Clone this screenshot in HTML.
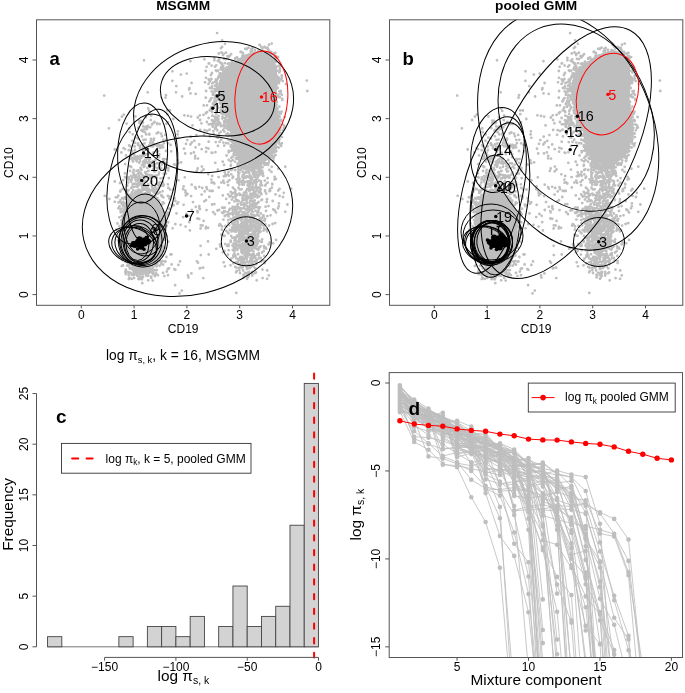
<!DOCTYPE html>
<html><head><meta charset="utf-8"><style>
html,body{margin:0;padding:0;background:#fff;}
svg{display:block;font-family:"Liberation Sans", sans-serif;}
svg{will-change:transform;}
</style></head><body>
<svg width="685" height="693" viewBox="0 0 685 693">
<rect width="685" height="693" fill="#fff"/>
<defs><clipPath id="ca"><rect x="36.5" y="19.8" width="293.3" height="285.5"/></clipPath><clipPath id="cb"><rect x="389.5" y="19.8" width="293.3" height="285.5"/></clipPath></defs>
<g id="sc"><path d="M261.0 50.9L253.0 52.5L245.0 55.7L238.5 60.5L230.5 63.7L225.7 70.1L222.5 78.2L219.3 86.2L217.7 91.0L220.9 97.4L224.1 103.9L227.3 113.5L230.5 126.4L232.1 140.0L236.0 150.0L241.0 160.0L250.0 164.0L262.0 163.0L271.0 157.0L276.0 147.0L277.9 138.0L278.7 126.4L277.1 113.5L275.5 102.3L276.3 91.0L277.1 78.2L275.5 66.9L272.3 57.3L267.4 52.5ZM140.0 193.0L132.0 196.0L126.0 203.0L123.0 215.0L122.0 232.0L123.0 250.0L127.0 262.0L135.0 268.0L148.0 268.0L157.0 262.0L162.0 250.0L164.0 232.0L163.0 212.0L158.0 200.0L150.0 194.0Z" fill="#bebebe" stroke="#bebebe" stroke-width="1.5" stroke-linejoin="round"/><path d="M215.8 90.9h0M228.3 115.6h0M277.0 101.9h0M281.9 137.1h0M231.4 136.1h0M228.4 120.0h0M272.9 161.0h0M217.8 78.6h0M279.4 138.6h0M275.7 56.0h0M218.8 96.3h0M275.4 52.8h0M281.4 143.6h0M235.1 58.8h0M235.1 150.2h0M275.9 76.4h0M279.4 129.7h0M225.5 120.0h0M277.4 117.9h0M215.9 89.1h0M239.5 59.7h0M221.8 69.7h0M227.0 125.6h0M239.7 155.3h0M221.0 100.8h0M278.3 94.6h0M215.8 79.7h0M229.7 67.5h0M237.4 61.7h0M270.5 156.0h0M282.7 81.1h0M273.3 160.7h0M274.8 61.4h0M284.8 127.5h0M279.9 79.5h0M277.2 57.2h0M260.7 167.7h0M273.0 62.1h0M244.8 163.2h0M215.8 102.7h0M236.0 151.5h0M278.9 139.3h0M227.0 121.0h0M276.9 70.9h0M219.8 100.0h0M228.5 121.0h0M216.3 100.7h0M227.9 127.9h0M259.7 50.6h0M275.7 148.2h0M221.5 106.7h0M243.0 55.3h0M274.5 152.3h0M220.9 77.0h0M223.8 113.6h0M235.7 148.9h0M225.9 71.7h0M212.0 86.4h0M239.2 161.7h0M241.6 158.1h0M219.8 99.6h0M216.1 113.8h0M217.5 106.4h0M223.6 100.9h0M242.2 163.3h0M217.8 87.6h0M243.9 162.1h0M218.3 95.7h0M277.7 88.0h0M221.1 78.9h0M276.4 82.6h0M221.7 80.3h0M277.2 114.8h0M273.3 152.2h0M219.9 87.1h0M277.5 111.8h0M214.9 95.5h0M238.0 59.2h0M273.5 152.3h0M256.4 166.8h0M276.0 147.6h0M219.6 76.6h0M217.3 96.3h0M279.6 134.3h0M240.1 59.1h0M278.7 77.7h0M234.8 150.7h0M274.5 150.3h0M228.1 114.4h0M222.1 78.8h0M258.5 50.2h0M217.4 86.9h0M281.6 78.6h0M269.3 52.4h0M234.1 155.0h0M228.2 139.7h0M224.5 104.3h0M271.1 52.5h0M245.6 58.4h0M232.0 141.9h0M222.0 76.6h0M220.2 94.7h0M279.4 106.6h0M219.6 87.8h0M260.8 166.0h0M229.8 129.5h0M246.5 168.8h0M225.6 122.0h0M222.0 107.4h0M225.9 107.0h0M238.1 59.9h0M241.4 158.9h0M279.4 72.4h0M273.2 59.6h0M254.9 50.0h0M276.5 66.8h0M225.8 59.2h0M279.1 116.7h0M279.8 70.9h0M216.7 71.0h0M226.5 122.2h0M231.7 133.6h0M230.0 124.9h0M250.6 176.0h0M259.6 44.9h0M233.4 145.3h0M277.1 78.7h0M238.8 60.5h0M241.5 163.9h0M240.6 161.8h0M276.5 104.7h0M271.0 51.8h0M282.8 130.3h0M223.1 104.5h0M278.6 138.3h0M228.4 125.1h0M277.5 108.9h0M277.7 134.9h0M268.0 49.2h0M278.3 81.3h0M248.6 47.7h0M221.5 109.2h0M276.8 83.0h0M272.0 157.4h0M228.6 125.2h0M246.6 55.5h0M281.5 111.7h0M262.4 48.5h0M237.1 57.5h0M264.5 47.0h0M276.6 107.4h0M278.9 80.0h0M240.4 157.9h0M222.0 76.6h0M254.7 164.8h0M233.4 147.3h0M224.9 75.8h0M220.9 73.6h0M220.0 100.2h0M274.5 56.3h0M265.9 47.9h0M280.3 128.0h0M284.1 125.7h0M281.7 121.0h0M250.2 162.4h0M223.1 79.6h0M277.5 79.2h0M276.0 76.8h0M283.8 128.1h0M276.4 58.2h0M267.6 47.6h0M246.5 162.4h0M278.8 112.0h0M274.8 155.6h0M227.5 56.1h0M226.6 116.6h0M241.0 51.7h0M277.0 76.1h0M255.5 52.4h0M257.2 168.3h0M221.8 79.2h0M223.0 67.3h0M220.8 73.6h0M281.8 76.5h0M243.2 166.1h0M229.7 121.8h0M261.4 51.9h0M259.2 163.9h0M224.6 112.4h0M229.2 134.3h0M278.5 128.4h0M228.1 57.6h0M280.9 113.6h0M275.2 78.7h0M239.5 163.4h0M234.8 148.5h0M226.2 69.7h0M236.5 143.8h0M274.6 109.5h0M231.8 146.8h0M274.3 152.0h0M249.5 55.4h0M217.8 90.1h0M216.8 84.6h0M269.0 44.7h0M248.6 55.2h0M208.6 83.9h0M252.6 47.9h0M275.9 147.3h0M278.8 141.9h0M227.4 125.1h0M252.0 50.7h0M234.3 149.0h0M222.8 76.9h0M233.0 150.6h0M232.8 130.8h0M215.6 89.4h0M286.0 84.0h0M280.2 132.9h0M238.3 158.6h0M233.0 136.8h0M229.2 56.4h0M272.3 156.4h0M244.9 165.5h0M276.0 69.1h0M270.8 53.5h0M279.9 97.3h0M277.6 79.6h0M244.3 164.5h0M231.2 131.3h0M242.6 159.2h0M255.1 162.8h0M276.3 95.7h0M223.8 68.4h0M273.6 158.2h0M278.6 65.8h0M214.6 91.2h0M222.6 107.9h0M277.0 88.3h0M281.1 145.9h0M269.6 53.5h0M277.8 147.1h0M271.9 58.6h0M280.8 91.0h0M279.4 136.1h0M221.0 81.7h0M215.1 85.7h0M279.3 81.6h0M227.4 123.2h0M278.5 133.6h0M235.8 148.5h0M237.6 157.2h0M258.6 50.6h0M280.5 93.0h0M227.9 113.4h0M229.0 121.2h0M240.6 52.1h0M275.9 151.4h0M275.8 105.2h0M249.1 164.3h0M239.9 161.8h0M276.8 107.9h0M235.3 58.1h0M257.2 163.8h0M278.1 116.0h0M228.3 129.6h0M281.7 75.4h0M235.7 158.0h0M229.8 63.6h0M271.7 43.6h0M238.9 152.0h0M284.6 117.0h0M241.7 60.5h0M279.8 97.1h0M221.2 67.3h0M230.8 64.2h0M224.8 104.5h0M234.6 146.5h0M241.1 165.7h0M234.3 145.6h0M251.4 49.0h0M272.6 157.8h0M277.8 118.8h0M266.6 53.2h0M261.4 166.9h0M278.1 57.1h0M274.0 53.5h0M220.1 87.2h0M242.5 55.9h0M222.1 76.1h0M279.2 117.1h0M221.8 101.6h0M232.0 61.7h0M275.1 58.7h0M280.0 133.0h0M271.8 54.1h0M226.0 120.0h0M220.4 82.2h0M223.1 66.1h0M275.6 56.6h0M224.2 75.7h0M275.5 99.7h0M217.0 88.2h0M281.4 79.4h0M245.2 48.8h0M230.0 134.7h0M232.2 139.7h0M268.0 49.4h0M279.6 69.8h0M230.6 135.7h0M233.4 146.3h0M278.0 124.1h0M278.7 147.6h0M279.8 71.0h0M276.3 130.6h0M247.9 166.7h0M280.0 68.4h0M224.4 123.5h0M228.2 133.9h0M228.2 126.1h0M243.1 159.8h0M250.6 51.5h0M237.0 153.6h0M224.8 118.0h0M221.6 96.1h0M220.6 96.0h0M282.3 99.9h0M231.5 135.0h0M268.5 49.8h0M232.8 142.6h0M281.7 133.6h0M228.0 110.3h0M279.4 91.3h0M218.2 88.3h0M223.7 104.0h0M226.4 109.4h0M224.0 58.8h0M279.9 114.1h0M235.9 147.2h0M230.4 67.2h0M256.3 162.2h0M243.3 160.7h0M246.1 165.4h0M279.2 127.1h0M244.5 55.9h0M243.2 162.8h0M246.6 48.7h0M269.1 51.6h0M278.0 139.5h0M219.6 73.3h0M275.4 65.8h0M218.9 75.8h0M230.2 124.3h0M246.9 49.0h0M230.0 129.9h0M277.8 118.2h0M230.5 65.2h0M275.0 106.6h0M232.7 149.8h0M282.3 99.0h0M221.9 76.5h0M274.9 73.3h0M282.5 124.4h0M248.8 55.9h0M240.3 160.5h0M244.8 56.2h0M277.4 122.8h0M230.6 128.2h0M275.7 107.1h0M277.6 77.0h0M221.2 76.8h0M277.9 96.4h0M231.8 135.3h0M232.5 134.3h0M277.0 141.4h0M268.0 54.3h0M277.4 132.0h0M214.5 89.0h0M261.4 47.0h0M229.7 55.7h0M223.7 111.1h0M241.8 57.9h0M242.9 52.9h0M271.2 60.5h0M222.8 69.4h0M223.3 125.4h0M270.9 55.3h0M253.8 163.7h0M279.7 130.3h0M225.2 107.2h0M279.3 139.7h0M223.3 73.6h0M227.0 126.4h0M279.4 66.3h0M277.9 120.2h0M239.5 156.4h0M236.2 158.7h0M279.6 117.2h0M231.2 140.0h0M234.1 152.4h0M264.8 163.2h0M261.6 162.7h0M238.1 155.5h0M273.5 157.6h0M218.5 60.9h0M281.2 120.0h0M223.2 74.0h0M278.6 96.9h0M266.2 163.5h0M273.6 61.0h0M231.1 147.1h0M277.2 141.2h0M241.6 59.5h0M226.2 113.2h0M225.4 75.9h0M281.9 143.3h0M227.8 63.8h0M246.2 162.3h0M218.4 99.2h0M221.4 75.2h0M281.8 94.8h0M215.9 94.8h0M239.6 60.5h0M228.2 143.4h0M212.9 82.8h0M279.9 124.5h0M275.6 155.1h0M271.4 56.9h0M276.4 84.8h0M226.9 113.8h0M276.0 83.6h0M217.5 97.8h0M279.0 83.2h0M221.5 63.8h0M275.9 62.0h0M264.5 164.9h0M235.1 161.7h0M231.7 139.0h0M228.6 135.9h0M223.8 72.5h0M276.3 150.9h0M230.2 126.3h0M277.3 77.5h0M228.6 63.3h0M239.5 156.3h0M269.3 160.5h0M279.7 120.3h0M279.3 143.8h0M234.6 145.3h0M279.3 121.9h0M227.8 98.2h0M229.6 107.1h0M219.2 59.4h0M229.1 96.6h0M223.7 53.8h0M218.3 107.8h0M220.3 81.1h0M214.3 105.5h0M219.5 91.3h0M220.0 83.3h0M219.7 84.1h0M222.2 64.5h0M214.4 100.6h0M220.8 103.9h0M235.9 119.2h0M229.8 110.6h0M221.1 79.4h0M209.1 63.4h0M205.8 71.0h0M210.9 75.0h0M221.8 89.3h0M228.1 123.1h0M229.1 122.0h0M223.8 86.7h0M225.1 93.5h0M220.6 110.4h0M214.4 58.0h0M224.2 145.7h0M229.7 196.7h0M212.3 83.3h0M206.0 77.8h0M235.1 141.5h0M214.9 91.6h0M216.3 65.3h0M220.3 91.5h0M222.6 106.7h0M226.8 135.3h0M221.4 94.6h0M222.0 111.4h0M221.1 74.5h0M218.4 119.0h0M214.9 120.9h0M212.3 115.7h0M226.1 94.5h0M221.8 94.0h0M233.6 88.7h0M216.9 109.7h0M229.7 108.6h0M221.0 126.3h0M216.7 79.9h0M213.4 131.1h0M206.7 66.8h0M223.7 110.5h0M234.0 110.9h0M218.6 135.5h0M229.4 129.8h0M229.4 113.1h0M211.9 72.9h0M235.6 101.1h0M209.3 101.4h0M228.6 110.1h0M222.1 40.3h0M222.4 96.4h0M233.6 100.0h0M221.6 88.6h0M221.1 106.9h0M218.4 77.2h0M213.4 102.9h0M219.5 91.6h0M211.4 79.0h0M208.8 124.3h0M230.1 110.2h0M221.1 111.7h0M211.6 65.6h0M230.1 73.0h0M221.6 82.4h0M205.0 82.3h0M227.6 133.3h0M204.4 59.3h0M217.9 125.2h0M230.4 140.5h0M233.6 88.7h0M215.1 123.4h0M220.1 100.4h0M219.4 89.6h0M228.2 73.7h0M209.8 81.6h0M222.6 91.7h0M220.9 48.2h0M215.8 127.2h0M220.7 81.9h0M229.6 84.8h0M227.0 104.7h0M224.6 125.9h0M237.4 132.0h0M215.9 70.4h0M219.5 94.5h0M226.6 99.8h0M223.1 55.0h0M221.4 112.6h0M233.5 119.2h0M222.4 68.3h0M221.6 99.0h0M220.7 102.8h0M225.2 110.3h0M237.2 73.5h0M210.7 108.8h0M213.1 93.3h0M221.1 77.7h0M227.2 115.3h0M222.6 114.3h0M227.7 90.6h0M225.8 102.1h0M221.6 86.5h0M233.7 106.9h0M211.7 111.2h0M203.8 105.4h0M226.9 135.1h0M223.0 80.2h0M235.1 125.2h0M230.6 91.8h0M226.0 52.7h0M224.9 43.8h0M214.4 60.3h0M229.5 122.1h0M217.4 130.3h0M222.1 46.9h0M218.8 53.5h0M222.0 107.6h0M216.4 119.2h0M228.9 75.0h0M225.5 95.7h0M219.6 141.9h0M216.6 89.0h0M221.1 113.1h0M226.9 73.9h0M231.1 145.9h0M235.6 102.7h0M218.0 70.7h0M224.0 96.5h0M221.2 82.3h0M206.1 91.0h0M220.4 89.0h0M211.7 91.4h0M220.6 69.2h0M226.1 97.7h0M222.6 108.9h0M219.9 96.6h0M225.4 118.4h0M227.9 93.9h0M227.0 128.4h0M211.8 88.2h0M221.5 98.8h0M234.2 129.6h0M220.7 95.9h0M211.9 73.3h0M231.1 54.2h0M226.1 80.7h0M219.6 96.4h0M234.6 107.9h0M225.3 125.6h0M206.3 147.8h0M210.1 80.6h0M226.6 67.4h0M209.6 129.7h0M219.6 123.9h0M225.3 94.5h0M233.8 92.9h0M236.0 76.4h0M214.9 81.9h0M223.6 70.2h0M217.0 137.3h0M223.2 129.9h0M224.6 84.7h0M216.6 104.8h0M222.5 86.5h0M218.1 137.7h0M229.3 107.9h0M219.7 89.3h0M236.0 84.7h0M238.2 83.1h0M211.6 152.6h0M221.2 139.7h0M225.1 93.9h0M228.6 92.5h0M225.1 96.4h0M209.7 110.3h0M218.3 96.3h0M224.9 63.2h0M225.8 115.0h0M235.4 121.3h0M224.4 83.1h0M221.8 63.4h0M224.8 94.6h0M219.4 100.1h0M225.1 106.4h0M213.7 133.9h0M222.1 108.2h0M221.9 75.3h0M223.7 89.3h0M215.9 102.6h0M227.1 115.1h0M223.2 83.6h0M219.6 95.9h0M211.9 120.2h0M222.5 66.5h0M232.2 149.1h0M212.9 94.8h0M216.0 119.1h0M212.3 112.0h0M224.5 127.8h0M208.7 79.5h0M220.4 123.8h0M222.4 118.5h0M224.9 76.1h0M221.0 89.0h0M219.6 75.6h0M227.0 106.9h0M208.6 118.0h0M217.8 60.9h0M230.1 98.5h0M224.2 95.5h0M221.5 52.5h0M227.0 80.0h0M221.8 96.8h0M215.0 66.7h0M220.7 131.8h0M217.2 83.5h0M222.4 84.0h0M230.8 110.9h0M239.1 104.7h0M237.2 84.0h0M223.4 72.0h0M219.1 91.3h0M226.1 134.7h0M220.1 62.4h0M221.9 95.4h0M218.6 122.0h0M229.9 82.0h0M217.1 33.1h0M217.7 121.9h0M215.7 123.8h0M226.8 116.4h0M226.6 98.6h0M229.3 128.2h0M224.7 99.9h0M231.3 139.7h0M217.9 122.7h0M222.7 161.7h0M220.1 85.1h0M215.9 124.8h0M215.0 117.9h0M218.7 136.0h0M233.3 130.8h0M208.7 63.5h0M203.5 169.5h0M218.2 90.6h0M222.6 116.9h0M220.0 102.9h0M222.3 67.4h0M230.7 146.4h0M214.7 116.7h0M231.3 157.8h0M215.0 128.5h0M210.8 124.2h0M191.6 83.0h0M218.6 115.9h0M218.1 120.2h0M220.0 123.1h0M213.0 125.8h0M208.7 141.7h0M205.9 112.8h0M222.8 113.4h0M223.3 142.6h0M221.8 112.3h0M231.9 126.7h0M206.1 151.7h0M216.5 129.4h0M222.9 111.3h0M223.0 99.7h0M206.0 113.3h0M234.5 129.2h0M225.4 112.7h0M219.7 85.8h0M212.7 126.7h0M209.9 88.0h0M200.2 129.9h0M227.1 113.7h0M229.3 98.8h0M220.5 124.4h0M224.4 95.5h0M223.9 121.3h0M207.0 112.1h0M212.8 123.9h0M207.0 105.4h0M215.5 118.6h0M219.1 133.6h0M197.8 117.5h0M216.6 119.6h0M204.7 130.2h0M229.9 115.8h0M207.2 131.0h0M214.5 120.4h0M216.3 111.1h0M214.1 106.8h0M196.4 135.1h0M216.8 117.2h0M226.4 115.8h0M224.3 131.6h0M211.5 98.1h0M218.4 121.9h0M223.3 93.3h0M213.0 122.0h0M217.2 120.1h0M216.9 80.8h0M211.3 107.4h0M200.1 120.0h0M210.5 99.5h0M201.4 123.3h0M191.1 116.6h0M258.7 207.1h0M253.5 221.8h0M245.0 230.3h0M244.3 205.3h0M252.0 146.4h0M233.8 209.6h0M243.9 216.2h0M242.8 226.2h0M256.6 168.3h0M244.3 215.6h0M247.6 157.1h0M254.9 153.1h0M260.8 170.4h0M258.1 154.6h0M249.1 173.3h0M247.1 159.6h0M260.3 221.0h0M246.2 221.0h0M235.7 196.3h0M254.9 149.5h0M233.7 154.1h0M240.8 217.7h0M254.0 208.2h0M246.6 197.2h0M247.5 168.7h0M254.3 215.6h0M260.9 192.6h0M242.6 149.5h0M233.7 225.7h0M245.0 152.7h0M235.5 206.9h0M252.0 210.8h0M260.4 149.7h0M245.7 213.4h0M235.3 217.2h0M232.0 193.7h0M246.4 197.7h0M237.2 226.2h0M256.3 159.5h0M235.5 190.5h0M244.1 177.9h0M248.5 147.7h0M262.8 154.8h0M258.3 175.6h0M251.1 219.6h0M250.4 196.4h0M253.4 217.4h0M227.9 212.2h0M255.4 220.9h0M244.9 204.8h0M267.5 156.6h0M261.8 153.4h0M265.2 151.3h0M239.6 214.7h0M279.5 189.0h0M254.1 201.5h0M251.3 199.7h0M239.3 232.0h0M252.7 193.5h0M224.8 216.0h0M260.7 218.1h0M256.8 164.7h0M252.2 153.5h0M260.9 219.9h0M251.3 229.3h0M258.2 147.6h0M241.3 220.3h0M250.3 219.0h0M238.5 177.5h0M240.0 166.7h0M255.1 147.3h0M244.2 177.9h0M231.6 231.5h0M246.6 200.7h0M228.1 213.8h0M263.5 215.3h0M242.5 163.1h0M237.3 221.0h0M263.2 215.6h0M233.2 197.2h0M223.4 219.6h0M251.4 167.2h0M244.3 213.7h0M259.9 190.4h0M246.0 218.7h0M235.7 154.7h0M254.3 148.3h0M246.0 196.3h0M259.6 219.1h0M255.4 158.1h0M237.0 217.4h0M238.7 226.7h0M252.4 157.6h0M244.1 199.2h0M250.0 205.5h0M252.6 184.0h0M238.9 170.1h0M251.2 195.7h0M261.0 157.0h0M236.4 194.1h0M231.3 222.1h0M258.8 174.3h0M258.8 150.8h0M259.1 191.0h0M267.0 199.2h0M250.6 164.0h0M236.2 214.7h0M248.0 230.7h0M246.3 148.7h0M252.7 197.9h0M254.4 220.4h0M247.6 221.5h0M255.3 192.3h0M253.1 153.1h0M254.8 163.7h0M234.7 220.8h0M265.6 206.7h0M241.1 204.7h0M247.9 161.2h0M245.8 149.5h0M249.7 158.8h0M248.8 148.0h0M228.2 194.5h0M268.1 164.8h0M251.1 213.9h0M248.3 169.8h0M246.0 224.0h0M262.7 162.0h0M261.1 157.8h0M248.8 230.1h0M261.9 156.7h0M219.1 225.6h0M259.9 172.2h0M250.1 155.4h0M242.4 176.8h0M238.5 187.7h0M246.2 229.9h0M230.7 191.8h0M253.1 183.5h0M243.5 161.7h0M259.3 160.5h0M229.2 203.1h0M255.6 162.4h0M246.9 160.6h0M235.7 198.8h0M265.3 151.4h0M261.8 173.5h0M236.3 218.1h0M243.1 215.8h0M266.3 164.4h0M251.6 168.9h0M244.5 163.7h0M239.6 178.7h0M239.9 195.0h0M255.4 180.5h0M261.4 154.8h0M247.9 152.6h0M235.5 211.0h0M241.9 167.6h0M232.4 156.7h0M254.2 176.5h0M247.4 195.6h0M255.7 229.9h0M267.9 230.4h0M265.4 154.6h0M240.2 227.1h0M247.9 152.6h0M237.6 152.1h0M228.7 160.0h0M264.0 228.4h0M253.1 161.9h0M232.6 177.9h0M251.7 224.6h0M222.0 226.5h0M243.1 212.2h0M246.7 210.0h0M237.3 224.3h0M239.4 215.7h0M257.0 174.7h0M242.2 184.6h0M256.5 220.0h0M230.9 161.4h0M245.9 157.1h0M265.8 184.6h0M238.1 172.1h0M240.6 146.4h0M245.1 214.6h0M240.7 208.1h0M246.1 229.2h0M261.7 147.9h0M256.2 156.4h0M252.5 155.9h0M246.1 156.5h0M250.5 178.8h0M258.2 176.3h0M234.6 224.7h0M243.2 184.7h0M235.0 192.3h0M250.7 151.4h0M252.8 148.6h0M243.7 166.2h0M234.5 201.4h0M241.1 170.2h0M258.1 148.8h0M243.0 171.9h0M254.7 206.0h0M244.0 157.2h0M242.9 151.8h0M254.7 200.5h0M235.2 230.9h0M256.4 223.6h0M222.0 212.6h0M251.4 148.9h0M240.1 208.9h0M245.2 169.3h0M247.2 223.9h0M227.9 174.6h0M268.6 206.1h0M245.7 159.9h0M272.7 201.0h0M258.4 168.5h0M250.9 179.7h0M228.3 220.1h0M263.6 216.4h0M252.7 211.8h0M262.6 167.3h0M229.3 210.1h0M225.5 226.0h0M241.8 208.4h0M256.1 160.5h0M259.7 152.7h0M260.8 189.5h0M241.7 153.7h0M230.6 218.9h0M256.0 186.0h0M235.1 209.6h0M247.2 189.1h0M267.3 216.1h0M242.1 201.3h0M252.1 187.1h0M246.8 231.0h0M248.3 185.0h0M255.2 154.3h0M249.7 227.7h0M247.0 206.0h0M267.3 156.5h0M259.5 174.0h0M238.0 180.8h0M260.0 226.8h0M249.4 191.0h0M248.3 167.4h0M239.3 193.6h0M259.2 158.1h0M250.0 163.5h0M238.6 200.8h0M241.6 162.1h0M262.7 163.1h0M248.6 146.7h0M245.4 172.9h0M275.9 178.9h0M247.9 230.6h0M252.4 219.2h0M252.0 164.1h0M244.9 221.6h0M239.4 173.1h0M253.3 215.6h0M247.5 229.8h0M243.5 146.1h0M243.7 227.6h0M270.4 152.2h0M249.3 210.7h0M251.1 165.9h0M241.1 194.8h0M240.4 208.5h0M255.2 176.7h0M260.4 157.6h0M248.3 212.2h0M255.6 215.7h0M239.6 189.3h0M243.3 197.0h0M255.4 153.1h0M262.3 171.0h0M242.6 197.8h0M261.5 156.0h0M240.9 147.2h0M260.4 185.0h0M265.7 149.5h0M243.2 208.3h0M255.8 149.2h0M258.4 166.0h0M242.0 181.6h0M243.9 192.8h0M241.3 216.4h0M254.0 191.8h0M259.5 174.8h0M235.6 224.6h0M237.3 227.0h0M254.0 203.1h0M240.6 203.0h0M247.2 181.3h0M257.3 187.4h0M245.6 226.6h0M257.5 212.8h0M247.9 207.7h0M248.6 177.0h0M244.0 155.5h0M228.7 152.3h0M241.2 225.2h0M231.2 170.0h0M255.4 207.0h0M255.2 204.4h0M254.2 180.9h0M258.5 210.9h0M267.0 231.4h0M227.9 215.2h0M249.3 167.2h0M253.9 225.5h0M248.0 169.3h0M249.1 171.6h0M258.0 212.0h0M256.7 161.9h0M231.9 213.4h0M264.8 180.6h0M236.1 231.7h0M254.8 148.6h0M257.7 157.3h0M228.5 216.4h0M266.2 193.6h0M252.9 220.0h0M250.2 217.0h0M260.7 149.8h0M246.1 191.0h0M252.8 224.7h0M258.4 158.3h0M221.9 229.7h0M232.4 228.9h0M257.3 203.2h0M233.9 229.9h0M252.8 206.6h0M248.0 176.7h0M258.6 164.1h0M226.5 226.8h0M249.2 197.3h0M248.9 187.7h0M253.2 172.4h0M252.1 179.4h0M247.1 215.1h0M248.8 229.6h0M253.6 190.3h0M240.7 211.1h0M267.6 147.9h0M249.3 184.1h0M243.6 174.7h0M259.3 150.2h0M235.2 170.0h0M263.3 152.7h0M242.7 213.1h0M246.0 222.8h0M244.9 231.4h0M249.6 230.8h0M241.6 189.3h0M243.8 184.7h0M254.0 167.8h0M242.3 182.7h0M250.2 160.9h0M242.7 230.6h0M245.3 176.9h0M244.5 147.5h0M237.7 204.2h0M245.4 167.3h0M232.2 220.5h0M232.2 229.1h0M275.5 194.4h0M250.9 160.4h0M255.5 210.9h0M248.1 220.2h0M259.1 151.2h0M249.5 188.0h0M255.5 221.6h0M249.4 197.8h0M252.7 172.0h0M238.3 159.1h0M261.5 155.2h0M243.0 222.4h0M245.0 221.2h0M256.2 149.3h0M249.1 207.1h0M244.3 230.4h0M262.6 175.1h0M242.4 156.9h0M228.7 175.7h0M248.4 153.7h0M222.9 213.0h0M247.2 181.4h0M262.9 173.1h0M261.0 224.7h0M238.4 175.9h0M250.6 208.8h0M233.2 218.5h0M254.7 157.9h0M266.7 146.0h0M239.3 219.0h0M260.5 231.4h0M251.3 189.7h0M272.6 224.0h0M244.7 166.5h0M241.8 165.7h0M261.5 200.2h0M256.6 207.0h0M254.7 194.8h0M237.4 228.7h0M252.6 168.8h0M247.1 152.8h0M265.1 190.3h0M252.1 228.6h0M245.8 154.0h0M237.0 230.0h0M232.7 207.0h0M239.5 230.3h0M251.8 161.7h0M257.8 147.3h0M257.6 222.7h0M241.8 218.9h0M265.9 153.8h0M226.3 215.1h0M248.6 189.7h0M255.1 203.4h0M245.1 182.2h0M251.5 196.3h0M259.8 171.6h0M246.8 159.1h0M255.9 146.2h0M257.9 225.9h0M235.1 213.4h0M258.0 225.9h0M251.3 160.3h0M232.8 210.8h0M250.7 222.7h0M258.0 176.8h0M246.8 202.9h0M252.2 203.8h0M256.0 179.3h0M246.8 231.1h0M254.7 154.9h0M262.4 151.5h0M258.3 187.9h0M251.8 170.4h0M234.5 152.1h0M234.9 210.4h0M245.2 200.0h0M263.3 175.9h0M258.8 152.8h0M265.4 224.4h0M255.2 187.4h0M252.2 215.3h0M248.8 169.0h0M262.0 199.6h0M235.7 195.3h0M255.2 174.6h0M252.1 153.5h0M245.9 177.7h0M260.9 181.2h0M260.8 151.6h0M254.1 193.5h0M250.4 153.3h0M237.6 163.9h0M238.4 166.7h0M220.6 224.6h0M238.1 169.3h0M252.9 194.5h0M262.0 218.0h0M240.6 167.7h0M260.8 213.5h0M271.5 171.8h0M262.1 185.4h0M265.2 218.9h0M248.2 208.7h0M246.4 176.3h0M256.0 159.7h0M263.4 157.9h0M252.7 216.8h0M253.7 175.2h0M255.3 227.6h0M242.7 175.5h0M255.1 229.1h0M231.3 174.3h0M269.0 152.3h0M265.1 191.3h0M273.3 209.5h0M245.1 147.0h0M241.5 223.7h0M237.4 215.2h0M233.0 214.8h0M224.2 211.2h0M262.0 154.9h0M251.1 158.9h0M246.0 223.7h0M228.6 223.2h0M255.3 155.6h0M272.3 184.4h0M253.9 172.0h0M262.0 161.3h0M235.3 221.6h0M265.4 151.6h0M252.1 169.7h0M255.1 154.6h0M258.2 148.9h0M251.7 149.1h0M254.3 226.5h0M249.8 185.6h0M247.9 170.2h0M236.7 217.2h0M235.7 219.5h0M263.1 152.4h0M265.0 157.2h0M247.3 214.1h0M245.5 223.9h0M247.6 157.3h0M256.2 151.4h0M267.8 164.0h0M250.1 225.9h0M247.7 161.7h0M259.0 220.6h0M255.8 221.3h0M229.8 213.8h0M245.6 192.1h0M267.5 151.6h0M255.6 182.5h0M247.0 224.3h0M255.9 182.8h0M236.5 212.5h0M240.5 170.2h0M246.9 219.6h0M252.4 187.8h0M271.9 147.9h0M252.1 165.4h0M251.2 222.2h0M263.5 230.6h0M241.8 221.6h0M245.9 213.3h0M255.2 149.1h0M250.1 229.8h0M254.9 166.7h0M255.1 225.3h0M239.2 181.0h0M238.5 174.4h0M252.2 166.4h0M232.0 208.3h0M269.4 170.0h0M240.7 208.5h0M244.4 193.9h0M258.9 169.1h0M254.9 180.5h0M253.7 220.9h0M254.0 150.4h0M237.4 182.3h0M245.6 224.5h0M246.7 155.2h0M236.0 154.7h0M244.5 219.7h0M260.9 184.1h0M242.5 168.2h0M243.3 180.8h0M244.2 168.7h0M256.8 203.8h0M230.9 165.0h0M253.6 205.6h0M253.6 163.9h0M248.3 197.2h0M238.6 207.3h0M247.9 182.7h0M270.2 190.7h0M248.8 227.4h0M248.6 159.3h0M261.1 163.8h0M235.1 207.2h0M261.3 194.2h0M248.1 196.9h0M278.4 168.7h0M274.6 176.8h0M256.9 182.1h0M256.2 172.0h0M249.7 147.8h0M259.2 156.6h0M257.2 195.0h0M236.5 179.3h0M237.9 147.7h0M255.3 193.1h0M246.0 167.2h0M248.1 226.9h0M249.0 211.3h0M253.0 173.6h0M246.4 198.3h0M259.3 156.6h0M261.7 224.2h0M267.5 182.7h0M247.5 172.2h0M247.0 231.7h0M251.3 182.2h0M234.0 188.6h0M236.8 152.1h0M251.6 154.1h0M250.7 229.7h0M254.7 221.4h0M245.3 159.7h0M260.0 149.7h0M245.7 216.6h0M241.2 228.1h0M258.6 202.0h0M229.7 209.0h0M223.4 207.9h0M269.5 191.2h0M250.2 175.7h0M261.7 146.2h0M249.5 176.9h0M242.9 180.0h0M240.2 157.6h0M232.2 169.4h0M250.8 196.2h0M240.6 164.8h0M250.9 158.8h0M255.4 155.6h0M247.7 198.5h0M250.8 183.0h0M265.3 185.6h0M254.2 169.3h0M254.0 166.1h0M245.7 209.4h0M267.4 158.0h0M266.4 151.5h0M246.4 153.9h0M255.7 164.8h0M247.2 197.0h0M248.6 147.5h0M236.4 226.0h0M271.7 153.0h0M251.6 227.1h0M226.2 198.9h0M264.0 152.7h0M266.0 210.9h0M251.8 177.6h0M246.5 214.5h0M250.0 200.9h0M259.0 192.6h0M243.1 195.4h0M252.6 201.2h0M229.8 230.0h0M257.9 231.2h0M237.0 195.2h0M241.5 231.7h0M251.8 209.4h0M262.9 158.8h0M239.3 215.8h0M245.9 149.2h0M269.0 148.4h0M243.7 178.1h0M238.5 212.9h0M242.9 200.1h0M253.5 221.2h0M256.7 189.0h0M259.8 190.6h0M250.5 225.0h0M247.1 166.2h0M256.1 167.5h0M259.3 167.1h0M238.4 176.4h0M239.0 230.3h0M252.9 148.2h0M267.6 178.2h0M244.7 203.8h0M253.7 149.3h0M250.9 176.9h0M249.9 225.7h0M253.8 214.9h0M239.1 183.5h0M217.5 210.5h0M255.9 206.8h0M225.2 211.4h0M252.0 195.3h0M254.9 176.6h0M253.7 222.8h0M234.5 231.5h0M255.6 159.6h0M259.0 162.3h0M256.7 189.0h0M266.3 149.0h0M239.3 184.7h0M241.5 214.9h0M243.1 225.4h0M245.7 223.4h0M263.6 152.6h0M262.0 148.7h0M251.6 178.1h0M266.7 202.0h0M256.9 178.4h0M240.0 160.3h0M259.4 229.1h0M233.5 213.3h0M233.5 217.3h0M241.4 227.8h0M243.9 195.3h0M248.9 181.5h0M251.2 170.2h0M244.8 148.2h0M243.5 168.0h0M258.5 166.7h0M253.9 173.4h0M244.7 212.4h0M244.6 147.3h0M252.3 159.4h0M237.8 200.3h0M238.0 163.3h0M256.2 229.9h0M258.9 164.7h0M248.1 163.3h0M268.7 162.8h0M245.4 220.1h0M254.9 204.2h0M257.4 159.9h0M250.3 193.8h0M249.6 202.8h0M268.1 163.3h0M259.4 187.4h0M232.7 160.1h0M259.2 153.2h0M224.7 207.7h0M235.3 226.4h0M257.3 157.7h0M237.2 201.0h0M259.3 226.5h0M244.2 207.3h0M258.6 160.4h0M250.2 217.8h0M257.4 197.4h0M260.4 223.9h0M234.0 193.0h0M245.6 227.6h0M250.4 205.7h0M263.9 155.7h0M256.0 185.0h0M245.9 199.9h0M232.2 223.5h0M231.9 199.6h0M240.8 181.6h0M253.1 173.8h0M247.6 231.1h0M261.7 223.9h0M250.0 220.2h0M258.8 180.3h0M232.3 219.6h0M252.6 186.5h0M241.8 217.6h0M240.7 219.0h0M259.5 225.5h0M251.7 166.5h0M252.2 153.1h0M248.1 207.1h0M237.7 165.5h0M229.2 225.2h0M266.0 229.2h0M248.1 212.3h0M249.6 189.6h0M254.7 160.3h0M243.5 204.7h0M246.4 193.2h0M238.0 217.5h0M251.7 205.2h0M244.5 227.1h0M258.7 208.9h0M262.8 224.0h0M240.8 163.4h0M258.5 171.5h0M244.0 203.3h0M269.1 225.6h0M250.2 207.0h0M259.3 196.3h0M246.1 172.1h0M265.9 157.3h0M245.4 151.5h0M234.7 209.1h0M222.2 207.7h0M246.1 220.5h0M248.4 156.6h0M254.2 160.1h0M237.2 218.1h0M251.2 167.4h0M247.5 206.8h0M241.5 151.0h0M269.8 189.3h0M270.5 215.3h0M249.5 222.1h0M254.7 196.7h0M256.4 191.0h0M259.5 165.3h0M245.2 147.6h0M254.4 171.2h0M271.9 154.9h0M251.8 148.1h0M247.5 185.3h0M242.7 162.0h0M248.4 157.1h0M227.6 181.9h0M247.7 208.7h0M265.0 149.5h0M253.4 189.1h0M255.7 146.4h0M254.0 153.1h0M248.2 215.4h0M237.3 206.4h0M226.2 230.8h0M271.7 166.8h0M258.2 159.3h0M228.5 171.9h0M264.2 220.0h0M243.4 213.3h0M260.9 182.7h0M248.0 198.1h0M242.4 198.4h0M260.7 170.8h0M247.6 176.7h0M222.9 252.3h0M245.6 244.4h0M243.4 250.6h0M260.9 257.9h0M249.4 246.5h0M239.4 267.8h0M227.9 232.7h0M244.9 247.0h0M249.1 240.2h0M264.7 261.1h0M228.5 233.3h0M233.4 263.3h0M242.3 225.7h0M243.7 228.9h0M247.0 254.1h0M235.5 248.3h0M249.6 236.3h0M251.3 237.1h0M252.9 243.7h0M242.3 263.4h0M256.2 241.7h0M216.3 248.8h0M241.7 250.4h0M246.5 241.6h0M243.0 263.0h0M260.8 261.7h0M235.4 240.3h0M247.9 220.3h0M256.3 230.8h0M255.5 237.6h0M249.8 222.4h0M221.4 234.6h0M232.3 227.1h0M240.7 247.3h0M253.1 231.7h0M230.7 241.9h0M234.4 227.5h0M240.3 257.0h0M247.3 216.1h0M263.5 225.7h0M246.0 232.5h0M253.9 248.0h0M256.2 245.8h0M243.2 258.4h0M226.1 226.5h0M230.6 240.6h0M239.9 232.0h0M251.6 249.7h0M240.0 224.9h0M265.5 247.3h0M239.3 245.3h0M248.4 235.2h0M252.4 245.3h0M240.6 258.1h0M241.1 260.4h0M246.8 240.8h0M257.0 239.4h0M250.9 261.3h0M242.1 236.6h0M253.1 256.9h0M224.5 250.9h0M256.7 237.4h0M255.5 240.3h0M239.6 240.4h0M253.0 239.8h0M240.6 244.9h0M253.7 218.5h0M256.5 262.5h0M235.6 243.4h0M250.1 245.7h0M263.9 246.1h0M240.3 239.2h0M249.0 234.7h0M239.9 237.6h0M262.1 252.5h0M234.5 250.8h0M220.0 244.5h0M251.9 249.1h0M251.3 247.5h0M239.6 242.2h0M243.8 226.2h0M246.9 232.5h0M252.5 274.0h0M267.1 278.8h0M242.7 239.9h0M252.9 234.0h0M252.8 238.4h0M249.8 240.6h0M262.0 260.4h0M254.6 229.9h0M258.6 240.6h0M233.8 249.8h0M257.1 226.9h0M254.5 243.0h0M245.1 252.3h0M243.7 237.4h0M257.5 214.5h0M256.7 229.6h0M258.8 230.9h0M260.3 224.1h0M264.4 248.1h0M245.1 242.2h0M257.1 244.0h0M253.2 248.2h0M236.6 267.8h0M245.7 250.1h0M249.8 246.6h0M263.7 251.2h0M244.7 247.3h0M244.2 232.1h0M258.0 233.9h0M259.1 247.5h0M255.2 246.0h0M244.3 275.6h0M243.6 234.5h0M251.4 264.1h0M234.9 239.5h0M255.6 258.3h0M252.8 241.0h0M249.4 237.6h0M251.7 246.5h0M250.0 243.7h0M254.1 247.0h0M240.1 264.2h0M249.5 242.8h0M245.6 265.1h0M248.0 250.0h0M239.3 241.8h0M241.5 235.2h0M236.8 241.5h0M234.4 253.5h0M254.0 234.2h0M250.4 236.3h0M249.3 250.4h0M230.2 213.9h0M250.5 250.7h0M245.6 237.5h0M238.9 211.9h0M258.9 215.8h0M247.5 241.1h0M248.2 228.2h0M237.2 249.1h0M234.4 244.5h0M232.5 245.5h0M249.5 243.7h0M250.1 228.8h0M239.8 238.8h0M258.2 235.9h0M244.8 257.9h0M246.5 254.1h0M234.6 255.0h0M244.5 249.0h0M251.0 218.8h0M255.1 237.3h0M255.2 239.1h0M246.3 223.1h0M233.3 255.3h0M236.3 245.4h0M243.6 228.2h0M242.1 240.4h0M249.9 237.2h0M238.4 259.7h0M257.8 243.4h0M234.9 247.7h0M239.6 260.2h0M244.2 234.6h0M241.5 231.0h0M243.8 226.7h0M246.4 252.9h0M249.0 231.1h0M248.0 237.5h0M230.8 241.2h0M252.4 245.0h0M241.0 234.2h0M243.6 247.9h0M245.7 256.6h0M251.7 254.5h0M241.5 247.9h0M244.6 247.4h0M247.2 272.8h0M233.8 247.4h0M240.1 247.9h0M247.1 261.8h0M243.4 234.7h0M247.8 246.5h0M224.9 266.3h0M236.4 262.1h0M256.4 260.2h0M246.9 233.4h0M238.1 258.8h0M240.8 248.5h0M241.8 236.7h0M254.1 232.3h0M243.4 240.2h0M246.6 242.4h0M235.8 238.7h0M242.2 267.8h0M252.6 242.6h0M246.9 240.4h0M260.7 241.6h0M236.3 292.9h0M238.0 236.6h0M236.2 248.8h0M238.9 234.2h0M254.5 261.4h0M248.3 230.8h0M250.0 236.1h0M248.1 247.4h0M234.4 254.7h0M245.4 243.2h0M235.4 255.4h0M238.9 245.0h0M235.9 228.6h0M233.7 223.6h0M241.5 259.9h0M255.2 233.0h0M237.8 262.5h0M252.5 243.7h0M241.6 238.7h0M223.3 235.7h0M264.6 263.0h0M242.5 253.2h0M250.6 236.4h0M236.7 236.3h0M246.7 259.6h0M247.3 243.5h0M242.7 258.8h0M260.5 246.5h0M243.0 247.3h0M250.6 258.0h0M254.2 234.0h0M244.1 238.5h0M251.1 230.0h0M228.5 244.3h0M240.5 238.1h0M243.9 232.4h0M245.8 229.6h0M234.1 249.9h0M242.1 256.9h0M247.7 234.7h0M239.9 230.8h0M244.9 249.7h0M244.8 245.8h0M236.1 258.3h0M250.3 255.2h0M234.4 240.6h0M237.9 262.2h0M243.1 270.5h0M249.0 236.2h0M256.2 264.2h0M243.3 236.2h0M244.4 228.9h0M235.2 217.1h0M239.5 227.5h0M246.3 246.5h0M254.2 246.2h0M242.7 258.5h0M238.4 217.4h0M232.3 237.8h0M249.8 255.2h0M235.5 255.9h0M248.3 250.7h0M235.5 240.2h0M225.2 244.1h0M241.3 251.4h0M255.0 232.1h0M253.1 256.0h0M242.3 265.7h0M237.7 226.0h0M245.1 264.0h0M249.8 222.4h0M240.2 258.1h0M238.3 241.5h0M235.6 267.1h0M260.6 227.9h0M228.6 250.2h0M249.1 243.7h0M246.3 240.1h0M253.7 254.2h0M257.2 254.5h0M240.3 238.7h0M242.9 245.2h0M239.1 233.8h0M243.1 238.4h0M244.1 263.2h0M257.5 237.8h0M246.2 240.2h0M237.4 250.0h0M227.1 245.8h0M242.0 227.9h0M249.0 254.4h0M246.8 247.8h0M236.2 247.8h0M258.0 228.9h0M264.7 221.0h0M252.6 235.2h0M246.3 242.2h0M244.4 254.6h0M241.7 244.9h0M255.1 240.9h0M224.6 235.9h0M239.1 231.7h0M250.1 243.6h0M237.1 235.6h0M231.1 235.9h0M261.8 221.7h0M261.9 241.9h0M242.4 235.6h0M232.8 250.0h0M241.3 234.3h0M243.7 261.1h0M239.9 240.3h0M256.7 229.8h0M252.1 272.0h0M244.1 222.2h0M253.1 238.5h0M256.6 248.8h0M247.0 231.8h0M255.3 248.2h0M248.7 248.5h0M248.9 245.6h0M244.1 223.1h0M239.5 238.8h0M255.1 256.2h0M235.9 237.1h0M239.3 247.1h0M247.6 250.7h0M239.0 239.3h0M264.3 229.8h0M258.8 253.2h0M254.1 245.4h0M245.5 253.4h0M244.1 243.5h0M243.1 249.1h0M244.8 240.4h0M251.1 246.5h0M233.7 243.4h0M258.4 249.1h0M259.7 223.7h0M249.1 220.5h0M251.1 236.1h0M244.0 249.3h0M237.7 235.4h0M241.8 252.8h0M257.8 234.5h0M236.8 244.3h0M234.2 227.0h0M249.8 237.2h0M259.4 232.4h0M258.8 258.3h0M242.2 246.1h0M220.5 246.7h0M245.7 233.8h0M257.7 214.8h0M251.6 244.2h0M247.0 225.4h0M251.0 237.2h0M246.6 254.6h0M237.2 209.3h0M248.3 246.4h0M243.0 235.9h0M236.8 245.3h0M250.8 238.6h0M257.5 241.4h0M251.7 242.4h0M245.9 256.6h0M252.3 259.4h0M256.7 245.7h0M253.4 251.5h0M251.0 255.3h0M247.6 247.5h0M251.4 234.2h0M254.4 257.6h0M227.9 254.6h0M240.2 235.6h0M252.6 234.4h0M248.6 237.3h0M235.2 266.8h0M239.2 230.5h0M242.9 266.8h0M231.4 258.6h0M239.5 247.6h0M245.6 257.5h0M239.2 267.7h0M242.7 228.0h0M248.1 254.8h0M252.6 256.7h0M244.4 262.7h0M254.3 234.1h0M242.8 236.5h0M243.9 248.1h0M242.4 243.3h0M253.4 255.7h0M259.9 207.4h0M240.7 236.9h0M241.6 234.6h0M238.1 254.2h0M258.5 232.3h0M253.5 219.0h0M251.6 265.9h0M255.3 235.5h0M238.6 241.7h0M258.4 249.8h0M248.5 251.6h0M236.6 219.0h0M241.1 239.2h0M249.1 245.8h0M276.1 239.9h0M241.2 262.4h0M246.9 269.1h0M264.3 255.9h0M253.8 226.6h0M259.0 248.2h0M252.7 257.9h0M248.3 234.2h0M242.2 233.7h0M255.7 245.6h0M247.6 240.0h0M245.7 231.6h0M247.9 232.4h0M249.3 242.6h0M250.9 258.9h0M251.1 247.6h0M254.8 239.1h0M246.4 250.9h0M233.8 237.6h0M266.2 248.7h0M248.7 253.1h0M245.4 240.8h0M244.2 258.8h0M262.1 239.3h0M245.9 251.6h0M236.5 247.0h0M256.9 260.0h0M269.7 242.4h0M247.4 257.2h0M250.3 260.5h0M247.6 225.6h0M239.8 225.9h0M248.8 261.9h0M252.5 240.5h0M228.6 245.9h0M240.8 238.1h0M247.1 274.7h0M242.9 236.7h0M233.3 256.9h0M237.8 222.4h0M242.0 248.7h0M234.8 244.3h0M230.8 260.1h0M239.3 270.1h0M241.0 267.2h0M251.0 266.9h0M247.7 277.4h0M268.8 275.4h0M248.9 271.8h0M238.8 264.1h0M240.0 273.0h0M247.7 268.4h0M267.2 270.4h0M255.2 273.2h0M249.0 273.4h0M236.7 271.1h0M256.7 280.3h0M247.0 278.8h0M255.2 268.3h0M236.1 272.3h0M243.6 277.4h0M251.8 261.9h0M245.1 272.8h0M258.9 255.5h0M252.7 262.8h0M246.8 265.3h0M256.0 272.5h0M262.6 278.1h0M242.9 257.4h0M246.7 267.2h0M249.5 266.1h0M243.5 274.9h0M250.5 266.3h0M251.8 265.1h0M248.7 276.1h0M244.7 262.4h0M249.7 268.0h0M262.5 269.6h0M243.4 263.2h0M230.5 265.3h0M248.7 264.7h0M252.2 275.5h0M253.7 266.3h0M121.9 221.8h0M165.7 234.7h0M165.2 237.7h0M121.9 244.6h0M163.1 220.5h0M145.3 193.3h0M121.3 231.2h0M157.2 263.5h0M127.3 198.5h0M161.4 255.4h0M121.8 216.0h0M144.2 267.0h0M163.3 211.6h0M126.9 202.1h0M123.0 248.8h0M126.7 259.6h0M123.0 225.4h0M150.5 268.5h0M166.8 215.4h0M148.6 192.1h0M148.1 193.8h0M120.2 234.2h0M124.5 209.3h0M148.3 269.4h0M165.5 214.2h0M117.5 223.5h0M131.6 194.0h0M119.0 238.8h0M128.8 197.1h0M122.3 223.7h0M136.8 194.4h0M167.7 212.5h0M134.3 271.7h0M152.8 195.6h0M136.6 268.2h0M118.0 240.2h0M157.5 257.7h0M121.1 233.5h0M163.6 227.1h0M121.4 243.4h0M157.4 198.2h0M136.3 186.4h0M121.1 241.3h0M160.2 251.1h0M130.1 195.7h0M122.7 249.7h0M129.1 263.2h0M138.6 189.7h0M154.0 192.6h0M136.1 194.9h0M121.1 235.1h0M147.7 267.3h0M146.2 192.9h0M164.0 224.6h0M122.4 247.7h0M116.3 230.0h0M141.4 270.3h0M124.2 229.4h0M122.7 259.3h0M156.5 266.3h0M162.7 224.7h0M122.9 211.5h0M162.0 210.1h0M164.0 247.6h0M159.8 205.5h0M153.2 267.4h0M122.8 236.7h0M122.6 255.7h0M155.8 259.8h0M165.5 226.5h0M124.7 207.7h0M162.9 215.2h0M119.5 226.2h0M120.8 212.3h0M131.9 195.6h0M123.0 265.5h0M122.8 223.7h0M146.7 267.4h0M142.0 270.7h0M136.4 193.8h0M138.1 193.4h0M136.1 266.4h0M139.0 190.9h0M164.8 220.5h0M121.6 253.6h0M158.8 254.6h0M161.1 245.6h0M138.6 269.2h0M150.1 269.9h0M131.1 197.5h0M144.4 269.4h0M161.7 204.8h0M119.8 235.7h0M121.8 252.7h0M127.7 199.7h0M147.5 270.3h0M138.5 192.1h0M124.4 253.8h0M161.9 209.1h0M132.3 193.9h0M119.5 206.5h0M153.6 270.4h0M154.3 196.8h0M165.0 239.8h0M120.7 212.2h0M163.3 232.3h0M128.7 197.1h0M155.1 265.1h0M129.8 197.4h0M123.0 239.4h0M146.8 268.3h0M123.4 222.2h0M129.0 197.2h0M135.7 191.9h0M160.5 256.1h0M140.9 190.9h0M159.1 256.8h0M156.2 273.9h0M143.5 189.5h0M164.3 224.9h0M122.5 247.3h0M152.0 265.2h0M125.0 212.0h0M128.9 265.7h0M166.1 221.8h0M121.5 250.1h0M151.0 269.2h0M144.0 271.0h0M117.4 236.2h0M138.3 268.4h0M121.4 254.9h0M135.3 192.3h0M121.9 204.2h0M122.7 236.1h0M129.0 196.6h0M119.0 243.1h0M122.3 219.7h0M125.4 261.8h0M147.9 192.2h0M120.0 253.5h0M124.6 210.0h0M122.6 223.4h0M120.5 209.7h0M122.2 260.0h0M159.2 200.7h0M150.7 271.9h0M139.4 192.3h0M124.4 253.0h0M121.8 223.7h0M143.7 268.1h0M127.8 197.6h0M162.8 220.3h0M120.1 245.6h0M127.9 263.3h0M121.7 208.6h0M160.4 253.1h0M147.6 270.7h0M119.0 241.8h0M143.1 190.1h0M162.5 236.3h0M118.4 208.2h0M135.4 269.5h0M157.4 261.9h0M122.3 228.2h0M147.5 191.7h0M147.5 190.4h0M130.8 196.8h0M119.3 217.3h0M123.2 205.9h0M163.6 246.6h0M140.0 194.3h0M124.4 206.7h0M166.6 236.0h0M164.7 221.9h0M125.2 207.7h0M128.9 197.7h0M122.4 246.5h0M122.7 233.6h0M136.3 191.0h0M165.3 226.6h0M157.7 193.5h0M155.3 196.1h0M121.1 233.0h0M168.2 241.7h0M168.3 222.3h0M166.8 225.8h0M122.4 237.2h0M145.2 271.0h0M157.7 201.0h0M163.5 218.6h0M165.1 247.9h0M131.9 192.4h0M162.5 233.5h0M122.4 216.8h0M160.7 254.4h0M163.9 203.2h0M121.3 220.1h0M132.9 268.5h0M146.8 271.0h0M165.4 239.3h0M143.1 269.6h0M130.7 273.1h0M134.4 269.2h0M139.6 273.6h0M142.9 257.2h0M133.8 274.3h0M148.7 273.2h0M146.5 263.1h0M138.1 269.6h0M145.9 269.7h0M134.6 274.3h0M139.1 272.4h0M125.8 269.7h0M143.0 277.0h0M139.4 260.5h0M128.6 275.1h0M146.6 268.0h0M131.9 274.9h0M134.5 268.7h0M126.9 254.8h0M140.1 278.9h0M136.1 262.2h0M148.9 263.6h0M121.8 266.1h0M140.8 264.4h0M138.3 268.9h0M138.7 277.0h0M139.8 271.9h0M148.9 267.1h0M145.3 265.7h0M138.9 268.5h0M146.3 273.8h0M132.9 263.6h0M129.5 263.7h0M133.3 268.6h0M131.7 278.9h0M148.2 280.3h0M142.4 272.8h0M137.0 275.5h0M143.1 268.7h0M141.9 279.3h0M151.7 269.4h0M123.5 253.6h0M138.3 268.8h0M138.3 271.3h0M142.9 264.9h0M134.1 277.9h0M156.4 270.3h0M140.3 274.1h0M142.1 269.9h0M139.3 277.5h0M133.8 272.5h0M130.4 272.6h0M142.0 269.1h0M142.3 260.3h0M133.2 267.3h0M140.2 269.4h0M133.9 270.0h0M142.3 283.2h0M140.9 271.5h0M141.9 268.0h0M136.2 273.9h0M137.5 267.1h0M139.4 278.4h0M130.5 267.7h0M141.9 273.0h0M152.7 280.6h0M134.8 274.0h0M154.9 276.2h0M133.2 266.7h0M140.6 274.5h0M131.9 274.5h0M134.9 273.4h0M145.6 272.5h0M147.9 269.9h0M141.5 277.0h0M135.4 266.6h0M128.8 279.1h0M133.8 274.9h0M140.5 272.3h0M136.7 269.1h0M147.4 270.4h0M131.7 268.9h0M128.7 272.4h0M146.3 270.8h0M151.2 277.9h0M137.9 275.2h0M137.2 270.4h0M137.3 270.0h0M129.8 268.5h0M129.3 277.9h0M135.2 269.1h0M127.1 265.7h0M143.3 258.3h0M141.8 267.0h0M156.1 273.3h0M146.6 271.4h0M147.7 263.6h0M153.0 274.1h0M127.3 272.0h0M140.1 278.0h0M137.8 270.3h0M143.5 269.1h0M153.4 272.6h0M135.0 271.3h0M138.5 279.2h0M131.6 260.3h0M156.8 270.1h0M149.4 270.4h0M136.6 273.2h0M141.1 266.9h0M125.4 272.0h0M151.2 276.6h0M129.6 277.9h0M129.6 267.7h0M141.1 270.7h0M134.1 268.7h0M141.5 271.1h0M146.1 275.5h0M141.7 266.6h0M146.5 270.4h0M134.4 257.5h0M142.0 274.0h0M148.9 265.1h0M139.9 260.9h0M141.7 271.7h0M133.7 273.0h0M148.2 275.9h0M133.3 270.5h0M148.7 269.4h0M137.5 269.0h0M147.5 269.2h0M125.7 274.0h0M163.0 272.9h0M151.5 272.3h0M138.9 265.0h0M144.7 270.5h0M147.9 271.4h0M146.0 259.5h0M143.4 273.9h0M167.8 269.0h0M163.0 264.7h0M155.3 270.1h0M159.5 250.7h0M146.3 257.0h0M166.8 271.6h0M156.6 265.3h0M164.7 261.6h0M159.6 265.7h0M145.0 247.3h0M155.1 252.3h0M155.5 274.6h0M165.4 261.5h0M152.3 255.7h0M152.5 262.6h0M158.0 259.2h0M163.3 251.2h0M151.9 247.8h0M171.6 264.5h0M139.5 247.4h0M175.4 269.8h0M169.0 268.3h0M154.2 262.8h0M162.5 255.4h0M154.7 260.1h0M164.4 276.1h0M154.8 254.4h0M157.9 275.2h0M161.3 263.8h0M160.2 261.3h0M156.8 254.0h0M157.8 251.3h0M162.4 261.1h0M158.9 249.8h0M170.6 254.5h0M146.6 248.6h0M159.2 257.8h0M154.8 244.8h0M160.7 262.1h0M155.2 242.3h0M152.5 253.8h0M156.9 256.4h0M154.9 250.9h0M153.4 245.1h0M168.0 275.2h0M147.4 127.8h0M152.1 178.3h0M161.2 147.5h0M153.5 197.4h0M152.6 144.0h0M152.9 153.3h0M128.2 182.6h0M145.8 160.8h0M128.5 190.2h0M167.9 184.3h0M156.8 151.5h0M140.6 199.4h0M141.5 155.7h0M140.0 183.3h0M152.8 142.2h0M138.8 201.0h0M145.0 132.3h0M133.8 172.6h0M150.4 176.5h0M151.6 177.8h0M133.1 161.5h0M151.1 182.7h0M144.1 147.0h0M155.3 160.0h0M158.3 132.5h0M140.0 148.2h0M153.0 145.2h0M155.9 190.8h0M131.6 153.2h0M143.1 198.4h0M131.9 177.3h0M154.5 121.9h0M124.9 173.4h0M153.3 191.5h0M141.2 157.7h0M154.0 138.7h0M168.2 170.6h0M142.5 198.3h0M135.3 137.7h0M130.7 179.6h0M154.4 144.4h0M129.9 159.0h0M126.1 190.7h0M150.2 142.6h0M159.7 166.6h0M148.0 171.2h0M169.9 110.5h0M161.1 133.7h0M152.5 187.8h0M147.7 204.2h0M147.8 190.2h0M149.2 178.1h0M155.3 190.2h0M145.1 188.2h0M129.7 132.2h0M122.4 203.0h0M131.5 180.2h0M148.3 108.5h0M124.7 197.5h0M139.6 200.1h0M146.8 174.5h0M155.2 204.6h0M135.0 142.9h0M133.0 172.7h0M128.6 179.6h0M128.2 198.0h0M137.6 196.3h0M160.5 178.3h0M108.9 128.3h0M142.4 188.2h0M146.2 174.9h0M159.2 172.6h0M159.1 157.2h0M149.3 134.5h0M124.9 149.1h0M134.9 150.0h0M137.5 194.8h0M133.7 175.0h0M149.5 204.7h0M135.3 199.6h0M130.7 157.3h0M142.9 161.9h0M151.9 181.3h0M134.4 205.0h0M131.2 167.0h0M134.9 150.3h0M142.9 186.6h0M145.0 195.8h0M136.1 159.9h0M133.2 190.2h0M153.8 140.0h0M170.6 145.0h0M174.1 164.3h0M169.3 198.6h0M139.3 120.6h0M144.2 197.7h0M141.0 203.3h0M136.8 197.4h0M138.5 157.4h0M146.5 129.2h0M148.0 198.6h0M158.2 193.5h0M161.9 136.2h0M139.0 204.9h0M139.3 198.7h0M153.1 204.4h0M152.9 161.2h0M138.9 172.2h0M144.1 188.7h0M126.6 123.6h0M147.6 174.7h0M131.5 158.2h0M145.9 204.8h0M109.4 199.0h0M144.0 179.3h0M128.0 204.6h0M141.1 120.9h0M146.8 147.0h0M138.1 143.4h0M165.2 134.9h0M154.2 191.7h0M137.6 204.9h0M162.5 196.7h0M146.5 126.4h0M145.7 185.5h0M164.9 170.2h0M168.1 143.3h0M145.4 162.5h0M152.1 190.1h0M144.4 155.7h0M155.2 187.2h0M140.5 190.4h0M159.6 144.8h0M125.0 177.1h0M146.9 204.0h0M159.3 154.3h0M146.3 177.0h0M126.0 155.4h0M147.9 154.4h0M131.0 181.6h0M140.1 148.3h0M146.6 147.7h0M163.8 184.6h0M140.8 191.9h0M132.7 134.3h0M163.4 185.8h0M140.0 178.7h0M137.1 157.3h0M143.2 131.5h0M140.5 167.9h0M158.9 163.5h0M121.9 116.7h0M132.2 186.6h0M152.8 154.0h0M142.9 196.7h0M141.2 173.7h0M118.5 202.4h0M151.5 190.4h0M137.9 143.9h0M157.5 189.0h0M119.1 120.0h0M147.2 158.4h0M148.4 179.0h0M160.0 192.3h0M142.9 183.3h0M133.4 197.7h0M145.2 172.5h0M137.1 192.1h0M146.3 134.4h0M117.5 197.2h0M140.8 197.6h0M143.3 185.7h0M145.9 154.3h0M141.2 196.6h0M162.6 191.3h0M166.5 159.1h0M153.9 198.8h0M144.9 163.5h0M159.0 184.5h0M144.2 189.7h0M142.0 129.9h0M136.9 179.8h0M146.0 117.2h0M161.2 168.2h0M158.4 185.0h0M159.7 146.0h0M147.4 188.0h0M135.5 203.6h0M151.2 115.5h0M144.4 160.8h0M135.1 202.4h0M154.8 196.4h0M124.1 203.7h0M126.7 197.4h0M132.4 140.7h0M136.9 186.4h0M142.5 176.9h0M153.2 169.5h0M153.3 189.8h0M138.6 182.7h0M136.6 191.4h0M143.5 204.6h0M156.4 175.6h0M147.9 200.9h0M150.6 199.9h0M154.4 190.6h0M150.1 162.1h0M145.5 172.2h0M120.5 190.6h0M139.9 161.2h0M131.8 150.6h0M134.8 193.1h0M139.3 204.7h0M151.9 186.5h0M155.7 192.5h0M138.3 128.0h0M153.0 146.4h0M153.2 162.8h0M122.6 188.8h0M151.1 146.3h0M143.4 201.3h0M123.4 198.8h0M148.8 153.0h0M152.6 199.0h0M154.1 189.7h0M141.0 169.0h0M155.0 177.3h0M157.0 200.4h0M154.1 171.6h0M128.8 196.0h0M158.1 151.3h0M143.2 126.4h0M142.1 144.4h0M161.8 164.6h0M162.9 182.6h0M162.6 202.4h0M114.7 149.5h0M162.0 185.8h0M120.4 200.2h0M151.4 201.2h0M133.5 153.0h0M148.5 194.6h0M157.3 193.9h0M157.7 168.5h0M145.4 127.2h0M114.8 181.5h0M141.4 130.6h0M139.2 175.6h0M144.5 196.7h0M159.7 124.0h0M137.5 159.0h0M155.3 164.4h0M137.9 138.5h0M139.9 156.1h0M148.9 196.7h0M155.1 171.3h0M156.7 177.7h0M142.6 123.1h0M157.1 124.0h0M134.7 156.8h0M170.2 189.6h0M156.7 133.4h0M146.2 193.3h0M139.5 123.0h0M139.5 176.8h0M147.2 193.1h0M139.9 146.0h0M145.9 196.9h0M135.5 177.2h0M136.2 204.6h0M159.9 148.0h0M135.4 176.0h0M140.2 197.0h0M133.7 202.9h0M151.5 197.4h0M134.6 183.6h0M141.0 198.8h0M149.3 134.0h0M141.2 198.1h0M153.4 165.4h0M150.2 159.1h0M147.4 186.3h0M138.0 204.9h0M145.6 139.6h0M136.0 180.7h0M136.3 195.5h0M133.9 186.9h0M162.7 181.9h0M157.1 163.2h0M133.6 170.0h0M148.0 125.9h0M157.9 144.9h0M147.1 129.1h0M165.9 167.5h0M133.4 157.8h0M146.0 200.8h0M120.2 191.5h0M159.3 192.7h0M137.4 186.8h0M149.4 158.1h0M157.1 183.7h0M143.0 202.8h0M139.5 194.6h0M138.0 177.5h0M161.2 195.5h0M166.0 151.0h0M139.2 195.7h0M163.1 159.2h0M140.1 159.3h0M118.3 195.7h0M138.3 170.3h0M135.9 180.7h0M148.3 184.3h0M149.0 189.2h0M136.5 170.8h0M135.7 179.9h0M141.0 203.3h0M114.8 201.8h0M150.0 197.1h0M157.6 146.3h0M144.9 177.6h0M127.3 185.5h0M143.0 163.9h0M134.4 177.5h0M135.3 195.9h0M161.8 195.3h0M141.4 169.9h0M136.0 175.2h0M150.0 194.9h0M126.0 198.8h0M163.0 185.3h0M149.2 160.6h0M146.4 181.2h0M148.7 162.0h0M126.2 192.9h0M153.6 122.9h0M147.8 202.7h0M145.3 159.7h0M132.6 201.6h0M142.1 184.3h0M159.7 185.3h0M136.2 158.5h0M146.8 203.4h0M154.0 176.8h0M130.9 155.9h0M136.8 202.3h0M146.5 190.2h0M158.6 174.4h0M149.4 144.9h0M135.5 196.3h0M143.9 166.9h0M123.1 180.2h0M150.0 166.8h0M140.9 204.5h0M142.3 149.5h0M145.3 160.6h0M144.5 194.6h0M135.4 116.4h0M168.4 168.3h0M131.1 176.1h0M143.6 196.9h0M144.4 166.2h0M125.1 164.1h0M139.9 180.0h0M132.6 160.4h0M128.7 150.2h0M123.6 148.1h0M140.9 192.5h0M157.1 123.3h0M151.8 175.5h0M142.0 165.1h0M146.6 186.3h0M115.8 197.3h0M144.8 202.0h0M135.0 193.2h0M150.0 175.2h0M149.9 193.2h0M142.8 182.3h0M138.1 200.7h0M142.9 122.4h0M166.4 123.8h0M138.2 179.0h0M145.4 197.9h0M153.3 166.2h0M156.9 200.9h0M129.2 128.4h0M144.1 176.4h0M129.6 166.1h0M137.5 191.4h0M149.4 200.8h0M120.6 202.3h0M144.4 177.6h0M142.5 156.0h0M150.7 201.1h0M142.1 186.7h0M143.8 198.1h0M138.3 194.3h0M154.5 192.7h0M150.1 190.4h0M147.0 162.0h0M104.7 195.8h0M151.1 163.0h0M133.6 202.3h0M148.6 199.3h0M147.3 167.9h0M150.2 164.1h0M138.5 179.1h0M143.6 201.3h0M139.6 196.3h0M123.8 204.6h0M148.0 163.2h0M134.8 158.2h0M143.4 176.7h0M153.0 189.2h0M156.3 191.9h0M149.6 159.1h0M145.5 181.8h0M142.5 175.6h0M134.3 158.6h0M148.5 170.9h0M146.4 181.6h0M138.2 145.0h0M151.9 124.5h0M130.0 170.9h0M150.3 127.3h0M133.6 204.8h0M132.0 197.4h0M132.1 198.6h0M135.7 200.3h0M131.2 188.1h0M143.5 176.2h0M142.7 203.0h0M177.5 160.4h0M122.1 198.1h0M138.3 180.7h0M153.5 152.5h0M159.0 187.0h0M142.7 183.5h0M155.5 144.9h0M138.8 176.6h0M150.7 195.9h0M135.6 198.2h0M127.3 191.9h0M144.0 185.5h0M139.1 194.6h0M142.2 186.2h0M140.8 123.2h0M125.7 177.6h0M138.2 173.6h0M136.8 161.4h0M128.7 177.5h0M134.6 146.5h0M143.0 147.1h0M143.8 151.7h0M131.7 179.8h0M128.5 195.3h0M133.8 183.8h0M134.4 155.3h0M138.7 184.3h0M159.0 203.5h0M136.8 193.4h0M120.0 183.0h0M157.1 202.1h0M143.5 139.8h0M135.2 202.6h0M146.5 186.0h0M137.3 156.3h0M162.4 146.9h0M144.0 129.6h0M143.2 147.2h0M136.1 193.4h0M144.5 203.2h0M138.5 181.8h0M136.6 183.9h0M139.6 180.4h0M131.7 179.6h0M149.5 194.0h0M156.1 184.0h0M128.8 195.0h0M135.9 191.9h0M145.2 202.0h0M129.1 145.5h0M132.7 184.0h0M150.8 120.1h0M141.0 204.2h0M148.1 126.9h0M123.8 114.6h0M155.2 167.4h0M144.9 149.8h0M140.0 184.0h0M164.1 159.1h0M151.4 201.5h0M123.3 202.0h0M167.3 114.2h0M136.3 159.8h0M140.5 173.0h0M130.4 146.4h0M162.0 136.3h0M140.9 197.1h0M151.0 138.9h0M154.2 175.9h0M142.7 190.3h0M121.4 152.5h0M163.2 147.3h0M141.9 136.3h0M124.3 203.4h0M138.8 179.0h0M139.0 185.2h0M139.2 162.8h0M144.4 143.4h0M150.9 139.9h0M163.3 197.3h0M156.0 145.1h0M149.2 110.9h0M167.8 195.9h0M143.0 200.2h0M169.8 196.7h0M145.4 160.7h0M123.7 189.2h0M159.6 182.3h0M163.6 221.0h0M174.8 164.7h0M228.7 151.0h0M180.6 224.8h0M185.6 192.7h0M230.9 145.2h0M223.3 180.7h0M212.3 152.9h0M194.3 140.8h0M191.0 153.4h0M195.2 155.9h0M183.6 186.4h0M185.6 226.6h0M218.6 177.1h0M203.6 220.9h0M218.0 145.9h0M214.3 204.2h0M190.4 144.5h0M207.0 189.2h0M166.3 139.8h0M201.9 166.6h0M184.0 148.7h0M171.8 204.7h0M167.7 214.7h0M176.5 213.4h0M223.8 176.3h0M213.2 212.2h0M206.0 226.9h0M184.8 177.3h0M205.8 228.4h0M223.7 212.5h0M186.0 143.8h0M183.2 217.1h0M226.6 155.5h0M175.4 201.1h0M232.8 193.1h0M204.7 191.4h0M209.3 197.0h0M189.9 230.4h0M211.4 179.6h0M163.9 143.2h0M195.1 158.4h0M231.0 196.0h0M212.7 190.9h0M162.3 145.4h0M215.3 162.8h0M178.3 163.2h0M230.7 165.8h0M175.3 224.2h0M185.2 153.5h0M195.9 188.7h0M191.1 196.1h0M204.3 201.3h0M169.0 208.7h0M217.9 169.6h0M200.6 228.5h0M193.9 152.4h0M222.8 195.4h0M225.4 174.5h0M197.6 212.3h0M168.3 168.0h0M173.6 205.2h0M232.9 187.7h0M211.6 182.7h0M201.6 194.6h0M165.2 217.7h0M197.7 168.5h0M195.1 187.2h0M199.9 209.2h0M226.1 143.1h0M197.3 211.1h0M191.7 184.7h0M165.9 173.6h0M199.2 218.9h0M166.2 162.8h0M189.2 222.2h0M215.8 142.1h0M218.8 187.5h0M225.6 176.0h0M178.3 137.8h0M201.7 149.2h0M168.7 214.2h0M187.3 140.1h0M168.4 187.9h0M177.2 203.7h0M233.2 213.7h0M219.1 210.0h0M209.7 190.8h0M224.1 182.9h0M206.5 187.2h0M172.4 206.0h0M224.7 172.3h0M228.1 185.2h0M187.5 194.0h0M229.4 180.2h0M191.8 210.0h0M163.8 173.7h0M163.6 160.8h0M215.4 152.2h0M172.6 228.3h0M185.8 195.4h0M198.0 158.6h0M212.2 175.9h0M197.4 218.5h0M168.7 178.1h0M202.2 188.0h0M199.3 206.2h0M213.0 182.4h0M178.5 180.3h0M188.7 215.8h0M219.7 224.1h0M200.8 225.3h0M190.7 136.7h0M181.2 162.3h0M224.7 172.3h0M183.1 189.2h0M208.5 148.6h0M185.4 190.6h0M191.8 142.4h0M183.6 204.8h0M206.5 210.1h0M163.0 178.0h0M208.4 174.3h0M233.1 176.6h0M199.2 186.8h0M196.8 170.9h0M211.3 191.0h0M178.3 202.3h0M195.8 206.8h0M212.1 204.5h0M201.7 171.4h0M225.4 175.8h0M163.3 139.9h0M214.3 183.5h0M195.6 147.3h0M173.5 189.5h0M221.3 182.6h0M199.3 207.9h0M208.1 227.8h0M206.0 200.2h0M171.2 151.3h0M224.1 164.9h0M186.4 214.0h0M174.6 198.4h0M231.3 150.8h0M193.0 202.1h0M164.4 218.7h0M199.2 144.5h0M215.0 214.2h0M202.5 225.5h0M172.4 80.8h0M176.3 86.1h0M167.2 110.4h0M205.8 97.7h0M189.1 89.5h0M209.9 136.4h0M190.4 61.2h0M186.7 73.6h0M204.1 134.8h0M192.5 125.4h0M188.0 115.9h0M212.8 104.1h0M172.5 71.3h0M199.8 115.3h0M180.9 74.6h0M184.4 115.3h0M189.5 88.2h0M182.1 96.5h0M210.1 100.7h0M177.9 131.3h0M195.7 93.9h0M203.5 114.9h0M173.3 119.0h0M214.7 98.1h0M168.0 122.4h0M165.5 97.7h0M190.5 93.4h0M166.0 95.2h0M177.6 134.4h0M206.9 122.0h0M271.8 187.7h0M260.2 115.6h0M274.7 210.4h0M278.2 190.5h0M274.5 179.5h0M278.9 203.4h0M278.0 208.3h0M285.3 166.7h0M268.6 244.4h0M272.2 183.8h0M283.0 197.0h0M287.4 204.5h0M285.3 211.8h0M283.8 192.8h0M276.0 212.4h0M273.2 243.3h0M279.6 195.9h0M291.2 188.7h0M275.2 223.2h0M278.8 206.3h0M199.8 268.4h0M188.0 275.5h0M180.0 261.4h0M188.5 277.6h0M179.5 293.4h0M178.4 264.9h0M203.1 267.7h0M208.0 241.4h0M166.4 257.0h0M200.6 245.8h0M203.3 278.1h0M200.4 268.1h0M181.8 290.6h0M196.9 261.3h0M200.8 255.1h0M198.0 262.7h0M174.4 269.2h0M208.7 254.5h0M171.5 254.4h0M175.1 285.2h0M223.7 262.3h0M191.4 273.4h0M307.3 91.0h0M306.8 80.6h0M144.0 60.3h0M104.2 95.6h0M147.7 92.3h0M176.0 92.3h0" stroke="#bebebe" stroke-width="2.8" stroke-linecap="round" fill="none"/></g>
<use href="#sc" transform="translate(353.0,0)"/>
<g clip-path="url(#ca)">
<ellipse cx="213.58" cy="107.22" rx="63.90" ry="81.22" transform="rotate(73.86 213.58 107.22)" fill="none" stroke="#000" stroke-width="1.0"/>
<ellipse cx="217.49" cy="96.29" rx="57.78" ry="38.59" transform="rotate(12.04 217.49 96.29)" fill="none" stroke="#000" stroke-width="1.0"/>
<ellipse cx="187.50" cy="216.30" rx="78.60" ry="106.40" transform="rotate(77.10 187.50 216.30)" fill="none" stroke="#000" stroke-width="1.0"/>
<ellipse cx="246.30" cy="241.30" rx="25.00" ry="24.50" fill="none" stroke="#000" stroke-width="1.0"/>
<ellipse cx="142.60" cy="153.00" rx="25.00" ry="50.00" transform="rotate(2.00 142.60 153.00)" fill="none" stroke="#000" stroke-width="1.0"/>
<ellipse cx="152.00" cy="176.00" rx="25.00" ry="67.00" transform="rotate(6.00 152.00 176.00)" fill="none" stroke="#000" stroke-width="1.0"/>
<ellipse cx="142.00" cy="179.00" rx="33.00" ry="66.00" transform="rotate(12.00 142.00 179.00)" fill="none" stroke="#000" stroke-width="1.0"/>
<ellipse cx="145.00" cy="225.00" rx="21.00" ry="31.00" fill="none" stroke="#000" stroke-width="1.0"/>
<ellipse cx="141.00" cy="228.00" rx="19.00" ry="26.00" fill="none" stroke="#000" stroke-width="1.0"/>
<ellipse cx="137.50" cy="243.50" rx="11.50" ry="17.00" fill="none" stroke="#000" stroke-width="1.0"/>
<ellipse cx="139.00" cy="242.50" rx="14.50" ry="19.00" transform="rotate(4.00 139.00 242.50)" fill="none" stroke="#000" stroke-width="1.0"/>
<ellipse cx="140.50" cy="241.50" rx="17.50" ry="21.50" transform="rotate(-3.00 140.50 241.50)" fill="none" stroke="#000" stroke-width="1.0"/>
<ellipse cx="141.50" cy="241.00" rx="20.50" ry="23.50" transform="rotate(5.00 141.50 241.00)" fill="none" stroke="#000" stroke-width="1.0"/>
<ellipse cx="142.50" cy="240.50" rx="23.00" ry="25.00" transform="rotate(-4.00 142.50 240.50)" fill="none" stroke="#000" stroke-width="1.0"/>
<ellipse cx="143.00" cy="241.50" rx="24.50" ry="25.50" transform="rotate(2.00 143.00 241.50)" fill="none" stroke="#000" stroke-width="1.0"/>
<ellipse cx="132.50" cy="245.50" rx="24.50" ry="17.50" transform="rotate(20.00 132.50 245.50)" fill="none" stroke="#000" stroke-width="1.0"/>
<ellipse cx="134.50" cy="245.00" rx="23.00" ry="17.50" transform="rotate(14.00 134.50 245.00)" fill="none" stroke="#000" stroke-width="1.0"/>
<ellipse cx="136.00" cy="244.50" rx="21.50" ry="18.50" transform="rotate(24.00 136.00 244.50)" fill="none" stroke="#000" stroke-width="1.0"/>
<ellipse cx="155.80" cy="227.50" rx="3.30" ry="3.30" fill="none" stroke="#000" stroke-width="1.0"/>
<ellipse cx="157.00" cy="231.90" rx="3.00" ry="3.00" fill="none" stroke="#000" stroke-width="1.0"/>
<ellipse cx="153.50" cy="230.00" rx="2.60" ry="2.60" fill="none" stroke="#000" stroke-width="1.0"/>
<ellipse cx="261.37" cy="97.58" rx="26.39" ry="46.63" transform="rotate(3.52 261.37 97.58)" fill="none" stroke="#f00" stroke-width="1.0"/>
</g>
<g clip-path="url(#cb)">
<ellipse cx="576.20" cy="117.62" rx="96.71" ry="74.09" transform="rotate(66.94 576.20 117.62)" fill="none" stroke="#000" stroke-width="1.0"/>
<ellipse cx="568.17" cy="130.77" rx="85.38" ry="123.14" transform="rotate(-19.95 568.17 130.77)" fill="none" stroke="#000" stroke-width="1.0"/>
<ellipse cx="566.17" cy="152.58" rx="137.90" ry="63.85" transform="rotate(-62.49 566.17 152.58)" fill="none" stroke="#000" stroke-width="1.0"/>
<ellipse cx="599.00" cy="242.00" rx="25.50" ry="24.50" fill="none" stroke="#000" stroke-width="1.0"/>
<ellipse cx="497.50" cy="150.00" rx="26.00" ry="43.00" transform="rotate(10.00 497.50 150.00)" fill="none" stroke="#000" stroke-width="1.0"/>
<ellipse cx="492.00" cy="195.00" rx="30.00" ry="80.00" transform="rotate(13.00 492.00 195.00)" fill="none" stroke="#000" stroke-width="1.0"/>
<ellipse cx="500.00" cy="200.00" rx="28.00" ry="78.00" transform="rotate(8.00 500.00 200.00)" fill="none" stroke="#000" stroke-width="1.0"/>
<ellipse cx="495.00" cy="215.00" rx="25.00" ry="60.00" fill="none" stroke="#000" stroke-width="1.0"/>
<ellipse cx="491.00" cy="232.00" rx="30.00" ry="28.00" fill="none" stroke="#000" stroke-width="1.0"/>
<ellipse cx="493.00" cy="236.00" rx="30.00" ry="26.00" fill="none" stroke="#000" stroke-width="1.0"/>
<ellipse cx="491.50" cy="242.00" rx="17.00" ry="19.50" fill="none" stroke="#000" stroke-width="1.0"/>
<ellipse cx="492.00" cy="242.50" rx="18.00" ry="20.00" transform="rotate(6.00 492.00 242.50)" fill="none" stroke="#000" stroke-width="1.0"/>
<ellipse cx="491.00" cy="241.50" rx="19.00" ry="21.00" transform="rotate(-6.00 491.00 241.50)" fill="none" stroke="#000" stroke-width="1.0"/>
<ellipse cx="492.50" cy="242.00" rx="20.00" ry="21.50" transform="rotate(3.00 492.50 242.00)" fill="none" stroke="#000" stroke-width="1.0"/>
<ellipse cx="491.50" cy="243.00" rx="21.00" ry="22.00" transform="rotate(-3.00 491.50 243.00)" fill="none" stroke="#000" stroke-width="1.0"/>
<ellipse cx="490.50" cy="242.00" rx="18.50" ry="21.00" transform="rotate(10.00 490.50 242.00)" fill="none" stroke="#000" stroke-width="1.0"/>
<ellipse cx="492.00" cy="241.00" rx="20.50" ry="20.50" fill="none" stroke="#000" stroke-width="1.0"/>
<ellipse cx="493.00" cy="243.00" rx="16.00" ry="20.00" transform="rotate(-10.00 493.00 243.00)" fill="none" stroke="#000" stroke-width="1.0"/>
<ellipse cx="490.00" cy="243.00" rx="19.50" ry="22.50" transform="rotate(4.00 490.00 243.00)" fill="none" stroke="#000" stroke-width="1.0"/>
<ellipse cx="485.00" cy="245.00" rx="23.00" ry="17.50" transform="rotate(18.00 485.00 245.00)" fill="none" stroke="#000" stroke-width="1.0"/>
<ellipse cx="486.00" cy="244.50" rx="22.00" ry="18.00" transform="rotate(24.00 486.00 244.50)" fill="none" stroke="#000" stroke-width="1.0"/>
<ellipse cx="487.00" cy="245.00" rx="21.50" ry="18.50" transform="rotate(12.00 487.00 245.00)" fill="none" stroke="#000" stroke-width="1.0"/>
<ellipse cx="607.46" cy="94.13" rx="29.82" ry="41.69" transform="rotate(18.08 607.46 94.13)" fill="none" stroke="#f00" stroke-width="1.0"/>
</g>
<circle cx="217.2" cy="96.0" r="1.7" fill="#000"/>
<text x="217.50" y="101.10" font-size="14.4" text-anchor="start">5</text>
<circle cx="212.8" cy="108.2" r="1.7" fill="#000"/>
<text x="213.10" y="113.30" font-size="14.4" text-anchor="start">15</text>
<circle cx="261.5" cy="97.0" r="1.7" fill="#f00"/>
<text x="261.80" y="102.10" font-size="14.4" text-anchor="start" fill="#f00">16</text>
<circle cx="143.5" cy="153.0" r="1.7" fill="#000"/>
<text x="143.80" y="158.10" font-size="14.4" text-anchor="start">14</text>
<circle cx="149.7" cy="165.8" r="1.7" fill="#000"/>
<text x="150.00" y="170.90" font-size="14.4" text-anchor="start">10</text>
<circle cx="141.7" cy="180.4" r="1.7" fill="#000"/>
<text x="142.00" y="185.50" font-size="14.4" text-anchor="start">20</text>
<circle cx="186.5" cy="216.0" r="1.7" fill="#000"/>
<text x="186.80" y="221.10" font-size="14.4" text-anchor="start">7</text>
<circle cx="246.5" cy="241.0" r="1.7" fill="#000"/>
<text x="246.80" y="246.10" font-size="14.4" text-anchor="start">3</text>
<circle cx="139.5" cy="243" r="5"/>
<circle cx="144" cy="242" r="4.5"/>
<circle cx="135" cy="244.5" r="3.5"/>
<circle cx="148" cy="241.5" r="3"/>
<circle cx="141" cy="246.5" r="3.2"/>
<circle cx="131.5" cy="245.5" r="1.8"/>
<circle cx="137.5" cy="249" r="1.7"/>
<circle cx="144" cy="249.3" r="1.7"/>
<circle cx="146.5" cy="238" r="2.2"/>
<circle cx="139.5" cy="239" r="2.8"/>
<circle cx="133" cy="243" r="2"/>
<circle cx="607.9" cy="94.4" r="1.7" fill="#f00"/>
<text x="608.20" y="99.50" font-size="14.4" text-anchor="start" fill="#f00">5</text>
<circle cx="577.4" cy="116.3" r="1.7" fill="#000"/>
<text x="577.70" y="121.40" font-size="14.4" text-anchor="start">16</text>
<circle cx="566.3" cy="131.7" r="1.7" fill="#000"/>
<text x="566.60" y="136.80" font-size="14.4" text-anchor="start">15</text>
<circle cx="570.2" cy="149.6" r="1.7" fill="#000"/>
<text x="570.50" y="154.70" font-size="14.4" text-anchor="start">7</text>
<circle cx="495.6" cy="149.6" r="1.7" fill="#000"/>
<text x="495.90" y="154.70" font-size="14.4" text-anchor="start">14</text>
<circle cx="495.6" cy="185.8" r="1.7" fill="#000"/>
<text x="495.90" y="190.90" font-size="14.4" text-anchor="start">20</text>
<circle cx="499.5" cy="188.0" r="1.7" fill="#000"/>
<text x="499.80" y="193.10" font-size="14.4" text-anchor="start">10</text>
<circle cx="495.8" cy="216.5" r="1.7" fill="#000"/>
<text x="496.10" y="221.60" font-size="14.4" text-anchor="start">19</text>
<circle cx="598.7" cy="241.7" r="1.7" fill="#000"/>
<text x="599.00" y="246.80" font-size="14.4" text-anchor="start">3</text>
<circle cx="497.5" cy="242" r="6.5"/>
<circle cx="502" cy="240" r="5"/>
<circle cx="493" cy="243.5" r="4.5"/>
<circle cx="499.5" cy="247" r="3.5"/>
<circle cx="504.5" cy="244" r="3.5"/>
<circle cx="489.5" cy="242" r="2.8"/>
<circle cx="494" cy="237.5" r="3"/>
<circle cx="501" cy="235" r="2.6"/>
<circle cx="487.5" cy="240" r="1.8"/>
<circle cx="496.5" cy="249.5" r="1.8"/>
<circle cx="491" cy="248" r="1.8"/>
<circle cx="506" cy="239" r="2"/>
<path d="M491.6 227v8M496.5 226.5h4M498.5 226.5v7" stroke="#000" stroke-width="1.4" fill="none"/>
<rect x="36.5" y="19.8" width="293.30" height="285.50" fill="none" stroke="#555" stroke-width="1"/>
<line x1="81.30" y1="305.30" x2="81.30" y2="308.30" stroke="#555" stroke-width="1"/>
<text x="81.30" y="318.60" font-size="12" text-anchor="middle">0</text>
<line x1="36.50" y1="294.60" x2="32.50" y2="294.60" stroke="#555" stroke-width="1"/>
<text x="27.80" y="294.60" font-size="12" text-anchor="middle" transform="rotate(-90 27.80 294.60)">0</text>
<line x1="134.10" y1="305.30" x2="134.10" y2="308.30" stroke="#555" stroke-width="1"/>
<text x="134.10" y="318.60" font-size="12" text-anchor="middle">1</text>
<line x1="36.50" y1="235.95" x2="32.50" y2="235.95" stroke="#555" stroke-width="1"/>
<text x="27.80" y="235.95" font-size="12" text-anchor="middle" transform="rotate(-90 27.80 235.95)">1</text>
<line x1="186.90" y1="305.30" x2="186.90" y2="308.30" stroke="#555" stroke-width="1"/>
<text x="186.90" y="318.60" font-size="12" text-anchor="middle">2</text>
<line x1="36.50" y1="177.30" x2="32.50" y2="177.30" stroke="#555" stroke-width="1"/>
<text x="27.80" y="177.30" font-size="12" text-anchor="middle" transform="rotate(-90 27.80 177.30)">2</text>
<line x1="239.70" y1="305.30" x2="239.70" y2="308.30" stroke="#555" stroke-width="1"/>
<text x="239.70" y="318.60" font-size="12" text-anchor="middle">3</text>
<line x1="36.50" y1="118.65" x2="32.50" y2="118.65" stroke="#555" stroke-width="1"/>
<text x="27.80" y="118.65" font-size="12" text-anchor="middle" transform="rotate(-90 27.80 118.65)">3</text>
<line x1="292.50" y1="305.30" x2="292.50" y2="308.30" stroke="#555" stroke-width="1"/>
<text x="292.50" y="318.60" font-size="12" text-anchor="middle">4</text>
<line x1="36.50" y1="60.00" x2="32.50" y2="60.00" stroke="#555" stroke-width="1"/>
<text x="27.80" y="60.00" font-size="12" text-anchor="middle" transform="rotate(-90 27.80 60.00)">4</text>
<text x="183.15" y="332.90" font-size="12" text-anchor="middle">CD19</text>
<text x="13.10" y="162.60" font-size="12" text-anchor="middle" transform="rotate(-90 13.10 162.60)">CD10</text>
<text x="183.15" y="10.40" font-size="13.7" text-anchor="middle" font-weight="bold">MSGMM</text>
<text x="49.50" y="64.90" font-size="18.5" text-anchor="start" font-weight="bold">a</text>
<rect x="389.5" y="19.8" width="293.30" height="285.50" fill="none" stroke="#555" stroke-width="1"/>
<line x1="434.30" y1="305.30" x2="434.30" y2="308.30" stroke="#555" stroke-width="1"/>
<text x="434.30" y="318.60" font-size="12" text-anchor="middle">0</text>
<line x1="389.50" y1="294.60" x2="385.50" y2="294.60" stroke="#555" stroke-width="1"/>
<text x="380.80" y="294.60" font-size="12" text-anchor="middle" transform="rotate(-90 380.80 294.60)">0</text>
<line x1="487.10" y1="305.30" x2="487.10" y2="308.30" stroke="#555" stroke-width="1"/>
<text x="487.10" y="318.60" font-size="12" text-anchor="middle">1</text>
<line x1="389.50" y1="235.95" x2="385.50" y2="235.95" stroke="#555" stroke-width="1"/>
<text x="380.80" y="235.95" font-size="12" text-anchor="middle" transform="rotate(-90 380.80 235.95)">1</text>
<line x1="539.90" y1="305.30" x2="539.90" y2="308.30" stroke="#555" stroke-width="1"/>
<text x="539.90" y="318.60" font-size="12" text-anchor="middle">2</text>
<line x1="389.50" y1="177.30" x2="385.50" y2="177.30" stroke="#555" stroke-width="1"/>
<text x="380.80" y="177.30" font-size="12" text-anchor="middle" transform="rotate(-90 380.80 177.30)">2</text>
<line x1="592.70" y1="305.30" x2="592.70" y2="308.30" stroke="#555" stroke-width="1"/>
<text x="592.70" y="318.60" font-size="12" text-anchor="middle">3</text>
<line x1="389.50" y1="118.65" x2="385.50" y2="118.65" stroke="#555" stroke-width="1"/>
<text x="380.80" y="118.65" font-size="12" text-anchor="middle" transform="rotate(-90 380.80 118.65)">3</text>
<line x1="645.50" y1="305.30" x2="645.50" y2="308.30" stroke="#555" stroke-width="1"/>
<text x="645.50" y="318.60" font-size="12" text-anchor="middle">4</text>
<line x1="389.50" y1="60.00" x2="385.50" y2="60.00" stroke="#555" stroke-width="1"/>
<text x="380.80" y="60.00" font-size="12" text-anchor="middle" transform="rotate(-90 380.80 60.00)">4</text>
<text x="536.15" y="332.90" font-size="12" text-anchor="middle">CD19</text>
<text x="366.10" y="162.60" font-size="12" text-anchor="middle" transform="rotate(-90 366.10 162.60)">CD10</text>
<text x="536.15" y="10.40" font-size="13.7" text-anchor="middle" font-weight="bold">pooled GMM</text>
<text x="402.50" y="64.90" font-size="18.5" text-anchor="start" font-weight="bold">b</text>
<line x1="47.56" y1="646.80" x2="318.50" y2="646.80" stroke="#666" stroke-width="0.9"/>
<rect x="47.56" y="636.67" width="14.26" height="10.13" fill="#d3d3d3" stroke="#444" stroke-width="0.9"/>
<rect x="118.86" y="636.67" width="14.26" height="10.13" fill="#d3d3d3" stroke="#444" stroke-width="0.9"/>
<rect x="147.38" y="626.54" width="14.26" height="20.26" fill="#d3d3d3" stroke="#444" stroke-width="0.9"/>
<rect x="161.64" y="626.54" width="14.26" height="20.26" fill="#d3d3d3" stroke="#444" stroke-width="0.9"/>
<rect x="175.90" y="636.67" width="14.26" height="10.13" fill="#d3d3d3" stroke="#444" stroke-width="0.9"/>
<rect x="190.16" y="616.41" width="14.26" height="30.39" fill="#d3d3d3" stroke="#444" stroke-width="0.9"/>
<rect x="218.68" y="626.54" width="14.26" height="20.26" fill="#d3d3d3" stroke="#444" stroke-width="0.9"/>
<rect x="232.94" y="586.02" width="14.26" height="60.78" fill="#d3d3d3" stroke="#444" stroke-width="0.9"/>
<rect x="247.20" y="626.54" width="14.26" height="20.26" fill="#d3d3d3" stroke="#444" stroke-width="0.9"/>
<rect x="261.46" y="616.41" width="14.26" height="30.39" fill="#d3d3d3" stroke="#444" stroke-width="0.9"/>
<rect x="275.72" y="606.28" width="14.26" height="40.52" fill="#d3d3d3" stroke="#444" stroke-width="0.9"/>
<rect x="289.98" y="525.24" width="14.26" height="121.56" fill="#d3d3d3" stroke="#444" stroke-width="0.9"/>
<rect x="304.24" y="383.42" width="14.26" height="263.38" fill="#d3d3d3" stroke="#444" stroke-width="0.9"/>
<line x1="314.1" y1="372.6" x2="314.1" y2="657.4" stroke="#f00" stroke-width="2" stroke-dasharray="5.3 9.4" stroke-linecap="round" stroke-dashoffset="-0.9"/>
<line x1="36.50" y1="646.80" x2="36.50" y2="393.55" stroke="#555" stroke-width="1"/>
<line x1="36.50" y1="646.80" x2="32.50" y2="646.80" stroke="#555" stroke-width="1"/>
<text x="27.80" y="646.80" font-size="12" text-anchor="middle" transform="rotate(-90 27.80 646.80)">0</text>
<line x1="36.50" y1="596.15" x2="32.50" y2="596.15" stroke="#555" stroke-width="1"/>
<text x="27.80" y="596.15" font-size="12" text-anchor="middle" transform="rotate(-90 27.80 596.15)">5</text>
<line x1="36.50" y1="545.50" x2="32.50" y2="545.50" stroke="#555" stroke-width="1"/>
<text x="27.80" y="545.50" font-size="12" text-anchor="middle" transform="rotate(-90 27.80 545.50)">10</text>
<line x1="36.50" y1="494.85" x2="32.50" y2="494.85" stroke="#555" stroke-width="1"/>
<text x="27.80" y="494.85" font-size="12" text-anchor="middle" transform="rotate(-90 27.80 494.85)">15</text>
<line x1="36.50" y1="444.20" x2="32.50" y2="444.20" stroke="#555" stroke-width="1"/>
<text x="27.80" y="444.20" font-size="12" text-anchor="middle" transform="rotate(-90 27.80 444.20)">20</text>
<line x1="36.50" y1="393.55" x2="32.50" y2="393.55" stroke="#555" stroke-width="1"/>
<text x="27.80" y="393.55" font-size="12" text-anchor="middle" transform="rotate(-90 27.80 393.55)">25</text>
<line x1="104.60" y1="657.40" x2="318.50" y2="657.40" stroke="#555" stroke-width="1"/>
<line x1="104.60" y1="657.40" x2="104.60" y2="660.70" stroke="#555" stroke-width="1"/>
<text x="104.60" y="670.50" font-size="12" text-anchor="middle">−150</text>
<line x1="175.90" y1="657.40" x2="175.90" y2="660.70" stroke="#555" stroke-width="1"/>
<text x="175.90" y="670.50" font-size="12" text-anchor="middle">−100</text>
<line x1="247.20" y1="657.40" x2="247.20" y2="660.70" stroke="#555" stroke-width="1"/>
<text x="247.20" y="670.50" font-size="12" text-anchor="middle">−50</text>
<line x1="318.50" y1="657.40" x2="318.50" y2="660.70" stroke="#555" stroke-width="1"/>
<text x="318.50" y="670.50" font-size="12" text-anchor="middle">0</text>
<text x="183.00" y="360.40" font-size="13.8" text-anchor="middle">log π<tspan font-size="9.38" dy="2.76">s, k</tspan><tspan dy="-2.76">, k = 16, MSGMM</tspan></text>
<text x="183.40" y="681.00" font-size="15.4" text-anchor="middle">log π<tspan font-size="10.47" dy="3.08">s, k</tspan></text>
<text x="13.00" y="514.50" font-size="15.4" text-anchor="middle" transform="rotate(-90 13.00 514.50)">Frequency</text>
<text x="56.00" y="422.80" font-size="19" text-anchor="start" font-weight="bold">c</text>
<rect x="61.5" y="443.4" width="189.5" height="29.8" fill="#fff" stroke="#333" stroke-width="0.9"/>
<line x1="72.1" y1="458.4" x2="92.6" y2="458.4" stroke="#f00" stroke-width="2" stroke-dasharray="6.1 8.4" stroke-linecap="round"/>
<text x="105.60" y="462.60" font-size="12" text-anchor="start">log π<tspan font-size="8.16" dy="2.50">k</tspan><tspan dy="-2.50">, k = 5, pooled GMM</tspan></text>
<clipPath id="cd"><rect x="389.2" y="372.6" width="293.3" height="284.9"/></clipPath>
<g clip-path="url(#cd)"><path d="M399.9 406.2L414.2 412.1L428.5 426.4L442.8 432.4L457.1 438.6L471.3 450.9L485.6 456.5L499.9 464.0L514.2 506.0L528.5 670.5M399.9 392.2L414.2 407.5L428.5 422.6L442.8 420.8L457.1 430.2L471.3 452.3L485.6 450.3L499.9 459.6L514.2 482.2L528.5 480.2L542.8 500.2L557.1 593.6M399.9 412.2L414.2 413.2L428.5 415.1L442.8 412.7L457.1 463.1L471.3 465.8L485.6 462.2L499.9 459.6L514.2 460.6L528.5 458.1L542.8 474.1L557.1 470.6L571.4 474.5L585.7 477.1L600.0 523.8L614.2 721.4M399.9 391.3L414.2 409.3L428.5 410.9L442.8 416.5L457.1 425.1L471.3 433.1L485.6 446.6L499.9 444.0L514.2 452.5L528.5 480.0L542.8 481.9L557.1 483.0L571.4 481.0L585.7 538.7L600.0 561.4L614.2 663.0M399.9 394.3L414.2 402.4L428.5 410.6L442.8 422.1L457.1 431.4L471.3 437.6L485.6 436.0L499.9 447.9L514.2 459.8L528.5 460.1L542.8 465.7L557.1 518.4L571.4 672.1M399.9 393.1L414.2 421.7L428.5 422.9L442.8 427.7L457.1 437.8L471.3 442.7L485.6 452.2L499.9 451.2L514.2 470.1L528.5 475.1L542.8 479.0L557.1 499.4L571.4 675.2M399.9 385.8L414.2 402.7L428.5 414.1L442.8 416.8L457.1 422.4L471.3 431.0L485.6 438.3L499.9 445.5L514.2 466.1L528.5 463.8L542.8 463.4L557.1 474.7L571.4 477.0L585.7 505.9L600.0 731.1M399.9 391.8L414.2 415.6L428.5 415.4L442.8 433.7L457.1 430.0L471.3 441.2L485.6 448.6L499.9 449.2L514.2 458.9L528.5 468.7L542.8 475.4L557.1 490.0L571.4 486.1L585.7 546.2L600.0 728.2M399.9 400.4L414.2 415.2L428.5 429.5L442.8 432.1L457.1 445.9L471.3 445.5L485.6 457.5L499.9 483.5L514.2 484.6L528.5 489.9L542.8 499.4L557.1 500.3L571.4 519.8L585.7 572.5L600.0 699.4M399.9 391.3L414.2 399.8L428.5 413.5L442.8 416.9L457.1 447.8L471.3 451.7L485.6 485.8L499.9 518.2L514.2 695.4M399.9 404.0L414.2 436.7L428.5 437.7L442.8 440.9L457.1 446.3L471.3 447.9L485.6 463.9L499.9 472.0L514.2 495.9L528.5 498.0L542.8 495.9L557.1 512.6L571.4 554.5L585.7 551.0L600.0 643.9M399.9 391.9L414.2 404.2L428.5 426.7L442.8 423.9L457.1 425.7L471.3 438.4L485.6 438.9L499.9 451.6L514.2 452.9L528.5 503.8L542.8 703.6M399.9 394.1L414.2 407.9L428.5 414.2L442.8 420.6L457.1 434.4L471.3 434.0L485.6 448.0L499.9 453.3L514.2 458.9L528.5 471.1L542.8 470.9L557.1 482.4L571.4 493.0L585.7 505.5L600.0 551.4L614.2 595.7L628.5 635.8L642.8 775.2M399.9 389.4L414.2 409.7L428.5 418.4L442.8 425.4L457.1 433.7L471.3 435.4L485.6 444.4L499.9 450.2L514.2 451.3L528.5 464.5L542.8 464.5L557.1 525.5L571.4 755.6M399.9 394.7L414.2 407.7L428.5 420.3L442.8 427.4L457.1 440.1L471.3 443.3L485.6 448.0L499.9 455.4L514.2 470.7L528.5 473.8L542.8 493.3L557.1 500.2L571.4 505.2L585.7 503.2L600.0 513.5L614.2 533.8L628.5 572.3L642.8 667.5M399.9 394.3L414.2 408.8L428.5 410.8L442.8 419.7L457.1 457.1L471.3 453.1L485.6 455.0L499.9 451.0L514.2 462.9L528.5 507.9L542.8 729.9M399.9 399.6L414.2 414.1L428.5 418.7L442.8 428.5L457.1 438.9L471.3 448.2L485.6 446.7L499.9 464.9L514.2 467.3L528.5 475.5L542.8 475.7L557.1 489.1L571.4 733.7M399.9 389.1L414.2 405.6L428.5 424.2L442.8 428.2L457.1 432.5L471.3 439.3L485.6 444.4L499.9 450.7L514.2 453.2L528.5 461.4L542.8 515.5L557.1 519.9L571.4 523.2L585.7 526.1L600.0 529.7L614.2 534.1L628.5 560.9L642.8 684.3M399.9 397.1L414.2 412.6L428.5 424.5L442.8 423.9L457.1 437.1L471.3 446.2L485.6 449.0L499.9 460.3L514.2 477.3L528.5 473.3L542.8 486.4L557.1 529.8L571.4 737.9M399.9 412.2L414.2 407.0L428.5 412.4L442.8 415.7L457.1 431.8L471.3 438.9L485.6 443.2L499.9 448.0L514.2 458.2L528.5 461.2L542.8 472.0L557.1 475.2L571.4 505.2L585.7 560.0L600.0 620.4L614.2 654.4L628.5 880.2M399.9 408.2L414.2 418.8L428.5 424.3L442.8 432.4L457.1 438.1L471.3 451.2L485.6 463.5L499.9 491.3L514.2 490.1L528.5 490.8L542.8 501.5L557.1 506.8L571.4 520.3L585.7 529.2L600.0 586.9L614.2 795.9M399.9 401.5L414.2 409.5L428.5 417.8L442.8 448.6L457.1 447.8L471.3 443.4L485.6 452.0L499.9 463.7L514.2 470.7L528.5 478.3L542.8 475.8L557.1 483.8L571.4 494.5L585.7 538.1L600.0 756.2M399.9 393.1L414.2 409.8L428.5 418.4L442.8 423.5L457.1 434.9L471.3 440.8L485.6 493.1L499.9 536.1L514.2 555.9L528.5 612.2L542.8 744.1M399.9 397.8L414.2 411.7L428.5 418.8L442.8 421.7L457.1 434.6L471.3 442.0L485.6 444.0L499.9 450.2L514.2 461.0L528.5 473.5L542.8 471.2L557.1 498.9L571.4 543.3L585.7 666.4M399.9 404.8L414.2 414.8L428.5 424.6L442.8 435.5L457.1 441.0L471.3 450.8L485.6 459.0L499.9 467.5L514.2 476.2L528.5 479.5L542.8 493.2L557.1 516.3L571.4 558.6L585.7 576.5L600.0 801.2M399.9 391.0L414.2 407.9L428.5 410.7L442.8 419.2L457.1 430.5L471.3 432.6L485.6 441.9L499.9 447.2L514.2 458.7L528.5 465.6L542.8 476.8L557.1 487.0L571.4 488.5L585.7 512.7L600.0 562.5L614.2 750.8M399.9 412.2L414.2 411.4L428.5 418.1L442.8 416.3L457.1 435.5L471.3 435.6L485.6 448.9L499.9 455.6L514.2 478.0L528.5 506.0L542.8 509.3L557.1 505.5L571.4 506.5L585.7 504.1L600.0 512.4L614.2 518.9L628.5 539.5L642.8 684.6M399.9 397.3L414.2 413.3L428.5 421.5L442.8 435.0L457.1 434.3L471.3 444.1L485.6 448.8L499.9 484.7L514.2 543.8L528.5 562.3L542.8 716.3M399.9 392.1L414.2 402.1L428.5 416.5L442.8 418.5L457.1 423.6L471.3 436.9L485.6 441.4L499.9 446.5L514.2 451.1L528.5 464.7L542.8 469.0L557.1 518.3L571.4 620.4M399.9 393.4L414.2 404.6L428.5 415.4L442.8 419.0L457.1 429.1L471.3 438.2L485.6 438.1L499.9 448.6L514.2 466.5L528.5 466.2L542.8 481.6L557.1 480.5L571.4 530.4L585.7 584.3L600.0 612.1L614.2 650.1L628.5 894.7M399.9 408.0L414.2 418.1L428.5 428.8L442.8 435.8L457.1 447.3L471.3 453.2L485.6 468.3L499.9 469.5L514.2 478.6L528.5 511.8L542.8 734.5M399.9 399.3L414.2 417.6L428.5 426.7L442.8 428.8L457.1 436.4L471.3 442.0L485.6 458.7L499.9 455.9L514.2 476.6L528.5 518.8L542.8 721.8M399.9 388.3L414.2 426.8L428.5 431.3L442.8 430.1L457.1 428.8L471.3 430.8L485.6 469.4L499.9 470.1L514.2 468.5L528.5 487.6L542.8 679.2M399.9 402.2L414.2 415.8L428.5 421.8L442.8 429.7L457.1 442.8L471.3 463.0L485.6 458.4L499.9 459.6L514.2 473.6L528.5 481.8L542.8 493.9L557.1 517.7L571.4 547.9L585.7 658.8M399.9 404.5L414.2 415.5L428.5 429.7L442.8 428.8L457.1 444.9L471.3 447.3L485.6 456.9L499.9 462.8L514.2 479.0L528.5 486.9L542.8 483.5L557.1 509.4L571.4 517.3L585.7 578.7L600.0 779.5M399.9 391.9L414.2 407.7L428.5 416.1L442.8 420.2L457.1 432.0L471.3 445.1L485.6 446.9L499.9 459.8L514.2 510.3L528.5 506.3L542.8 504.6L557.1 508.6L571.4 509.7L585.7 513.9L600.0 562.6L614.2 617.7L628.5 639.4L642.8 806.5M399.9 391.9L414.2 401.9L428.5 411.7L442.8 422.6L457.1 429.8L471.3 437.5L485.6 443.8L499.9 449.2L514.2 463.6L528.5 502.1L542.8 661.0M399.9 394.7L414.2 406.0L428.5 420.8L442.8 420.5L457.1 427.5L471.3 439.1L485.6 440.3L499.9 455.8L514.2 467.0L528.5 471.1L542.8 471.2L557.1 481.9L571.4 500.9L585.7 559.7L600.0 613.8L614.2 802.2M399.9 393.3L414.2 405.5L428.5 415.1L442.8 426.7L457.1 429.5L471.3 433.7L485.6 488.9L499.9 489.6L514.2 487.6L528.5 490.8L542.8 495.6L557.1 492.1L571.4 496.7L585.7 538.4L600.0 598.8L614.2 624.8L628.5 681.4L642.8 790.0M399.9 390.8L414.2 407.5L428.5 413.1L442.8 424.5L457.1 430.9L471.3 450.4L485.6 445.9L499.9 455.7L514.2 483.8L528.5 507.1L542.8 534.5L557.1 654.2M399.9 387.0L414.2 409.4L428.5 417.9L442.8 421.7L457.1 431.1L471.3 430.2L485.6 440.2L499.9 451.6L514.2 465.8L528.5 466.8L542.8 462.5L557.1 473.5L571.4 477.2L585.7 491.0L600.0 542.4L614.2 600.2L628.5 650.2L642.8 786.5M399.9 392.6L414.2 409.9L428.5 418.5L442.8 420.8L457.1 453.7L471.3 452.1L485.6 448.7L499.9 455.1L514.2 463.8L528.5 466.1L542.8 468.7L557.1 482.8L571.4 498.1L585.7 500.2L600.0 533.6L614.2 536.4L628.5 575.3L642.8 732.3M399.9 385.3L414.2 402.0L428.5 417.2L442.8 421.9L457.1 420.8L471.3 426.6L485.6 456.0L499.9 455.2L514.2 451.8L528.5 465.2L542.8 599.4M399.9 400.2L414.2 416.0L428.5 424.7L442.8 438.0L457.1 447.1L471.3 454.1L485.6 458.9L499.9 462.1L514.2 510.8L528.5 509.5L542.8 510.0L557.1 510.8L571.4 565.7L585.7 596.4L600.0 614.4L614.2 833.6M399.9 392.8L414.2 405.5L428.5 410.6L442.8 416.8L457.1 427.6L471.3 435.4L485.6 479.4L499.9 483.7L514.2 481.6L528.5 480.4L542.8 477.1L557.1 485.4L571.4 524.8L585.7 577.6L600.0 726.1M399.9 394.5L414.2 410.1L428.5 417.4L442.8 425.4L457.1 432.2L471.3 436.4L485.6 438.7L499.9 447.5L514.2 453.2L528.5 469.2L542.8 511.6L557.1 639.5M399.9 412.2L414.2 412.8L428.5 415.9L442.8 425.9L457.1 434.0L471.3 441.4L485.6 442.8L499.9 449.3L514.2 463.4L528.5 467.9L542.8 474.1L557.1 481.5L571.4 508.9L585.7 538.7L600.0 754.1M399.9 389.4L414.2 418.9L428.5 417.4L442.8 417.2L457.1 422.8L471.3 434.5L485.6 432.5L499.9 450.6L514.2 471.4L528.5 494.8L542.8 515.8L557.1 669.5M399.9 392.8L414.2 404.0L428.5 416.0L442.8 426.2L457.1 426.1L471.3 436.6L485.6 439.0L499.9 446.1L514.2 457.6L528.5 467.9L542.8 468.4L557.1 471.8L571.4 486.2L585.7 534.0L600.0 581.5L614.2 697.2M399.9 386.1L414.2 403.1L428.5 417.7L442.8 417.0L457.1 429.2L471.3 435.1L485.6 434.5L499.9 451.7L514.2 460.6L528.5 466.9L542.8 466.9L557.1 512.3L571.4 533.0L585.7 630.5M399.9 400.7L414.2 438.9L428.5 444.1L442.8 449.2L457.1 447.3L471.3 447.5L485.6 457.2L499.9 464.0L514.2 476.2L528.5 529.7L542.8 775.7M399.9 400.8L414.2 409.4L428.5 416.8L442.8 464.7L457.1 465.5L471.3 468.7L485.6 471.8L499.9 475.0L514.2 471.6L528.5 474.0L542.8 540.2L557.1 544.7L571.4 567.9L585.7 625.9L600.0 644.2L614.2 846.6M399.9 395.5L414.2 409.1L428.5 417.1L442.8 456.1L457.1 452.4L471.3 452.2L485.6 472.9L499.9 470.4L514.2 471.4L528.5 502.0L542.8 643.1M399.9 397.3L414.2 414.1L428.5 422.2L442.8 426.7L457.1 439.8L471.3 437.7L485.6 447.0L499.9 454.4L514.2 466.3L528.5 500.8L542.8 526.5L557.1 704.9M399.9 403.3L414.2 401.1L428.5 410.2L442.8 416.3L457.1 429.9L471.3 428.8L485.6 445.2L499.9 443.3L514.2 449.5L528.5 464.1L542.8 525.4L557.1 703.7M399.9 400.8L414.2 412.3L428.5 420.5L442.8 423.9L457.1 437.1L471.3 441.6L485.6 453.5L499.9 455.9L514.2 473.6L528.5 477.4L542.8 524.7L557.1 584.6L571.4 622.6L585.7 801.0M399.9 389.3L414.2 409.0L428.5 413.2L442.8 415.6L457.1 430.3L471.3 440.0L485.6 472.8L499.9 506.9L514.2 730.0M399.9 393.2L414.2 409.4L428.5 418.7L442.8 425.5L457.1 435.2L471.3 436.8L485.6 444.1L499.9 456.1L514.2 459.9L528.5 470.8L542.8 483.0L557.1 520.0L571.4 565.3L585.7 607.2L600.0 742.1M399.9 390.2L414.2 410.0L428.5 420.5L442.8 420.9L457.1 433.6L471.3 443.5L485.6 452.1L499.9 454.7L514.2 457.4L528.5 509.6L542.8 547.5L557.1 576.9L571.4 595.1L585.7 792.6M399.9 404.9L414.2 410.8L428.5 420.3L442.8 428.1L457.1 443.4L471.3 444.0L485.6 454.3L499.9 456.1L514.2 467.7L528.5 485.8L542.8 480.6L557.1 498.1L571.4 543.8L585.7 739.5M399.9 394.9L414.2 410.0L428.5 418.3L442.8 423.5L457.1 449.8L471.3 452.7L485.6 457.3L499.9 455.5L514.2 459.5L528.5 467.9L542.8 476.1L557.1 478.0L571.4 497.2L585.7 538.1L600.0 567.6L614.2 780.6M399.9 387.7L414.2 399.5L428.5 408.5L442.8 418.6L457.1 445.1L471.3 441.8L485.6 441.6L499.9 447.9L514.2 451.1L528.5 477.4L542.8 630.0M399.9 405.9L414.2 424.5L428.5 435.4L442.8 444.6L457.1 453.4L471.3 462.2L485.6 474.5L499.9 481.5L514.2 493.8L528.5 506.1L542.8 550.1L557.1 611.7L571.4 770.0M399.9 409.4L414.2 431.2L428.5 443.2L442.8 456.4L457.1 462.2L471.3 479.7L485.6 488.5L499.9 495.6L514.2 532.5L528.5 594.1L542.8 734.8M399.9 411.1L414.2 441.9L428.5 449.7L442.8 463.9L457.1 467.3L471.3 497.3L485.6 522.0L499.9 567.7L514.2 734.8M399.9 404.1L414.2 419.9L428.5 456.4L442.8 458.6L457.1 463.9L471.3 470.9L485.6 486.8L499.9 490.3L514.2 514.9L528.5 576.5L542.8 805.2" fill="none" stroke="#bebebe" stroke-width="0.85"/><path d="M399.9 406.2h0M414.2 412.1h0M428.5 426.4h0M442.8 432.4h0M457.1 438.6h0M471.3 450.9h0M485.6 456.5h0M499.9 464.0h0M514.2 506.0h0M528.5 670.5h0M399.9 392.2h0M414.2 407.5h0M428.5 422.6h0M442.8 420.8h0M457.1 430.2h0M471.3 452.3h0M485.6 450.3h0M499.9 459.6h0M514.2 482.2h0M528.5 480.2h0M542.8 500.2h0M557.1 593.6h0M399.9 412.2h0M414.2 413.2h0M428.5 415.1h0M442.8 412.7h0M457.1 463.1h0M471.3 465.8h0M485.6 462.2h0M499.9 459.6h0M514.2 460.6h0M528.5 458.1h0M542.8 474.1h0M557.1 470.6h0M571.4 474.5h0M585.7 477.1h0M600.0 523.8h0M399.9 391.3h0M414.2 409.3h0M428.5 410.9h0M442.8 416.5h0M457.1 425.1h0M471.3 433.1h0M485.6 446.6h0M499.9 444.0h0M514.2 452.5h0M528.5 480.0h0M542.8 481.9h0M557.1 483.0h0M571.4 481.0h0M585.7 538.7h0M600.0 561.4h0M614.2 663.0h0M399.9 394.3h0M414.2 402.4h0M428.5 410.6h0M442.8 422.1h0M457.1 431.4h0M471.3 437.6h0M485.6 436.0h0M499.9 447.9h0M514.2 459.8h0M528.5 460.1h0M542.8 465.7h0M557.1 518.4h0M571.4 672.1h0M399.9 393.1h0M414.2 421.7h0M428.5 422.9h0M442.8 427.7h0M457.1 437.8h0M471.3 442.7h0M485.6 452.2h0M499.9 451.2h0M514.2 470.1h0M528.5 475.1h0M542.8 479.0h0M557.1 499.4h0M571.4 675.2h0M399.9 385.8h0M414.2 402.7h0M428.5 414.1h0M442.8 416.8h0M457.1 422.4h0M471.3 431.0h0M485.6 438.3h0M499.9 445.5h0M514.2 466.1h0M528.5 463.8h0M542.8 463.4h0M557.1 474.7h0M571.4 477.0h0M585.7 505.9h0M399.9 391.8h0M414.2 415.6h0M428.5 415.4h0M442.8 433.7h0M457.1 430.0h0M471.3 441.2h0M485.6 448.6h0M499.9 449.2h0M514.2 458.9h0M528.5 468.7h0M542.8 475.4h0M557.1 490.0h0M571.4 486.1h0M585.7 546.2h0M399.9 400.4h0M414.2 415.2h0M428.5 429.5h0M442.8 432.1h0M457.1 445.9h0M471.3 445.5h0M485.6 457.5h0M499.9 483.5h0M514.2 484.6h0M528.5 489.9h0M542.8 499.4h0M557.1 500.3h0M571.4 519.8h0M585.7 572.5h0M600.0 699.4h0M399.9 391.3h0M414.2 399.8h0M428.5 413.5h0M442.8 416.9h0M457.1 447.8h0M471.3 451.7h0M485.6 485.8h0M499.9 518.2h0M514.2 695.4h0M399.9 404.0h0M414.2 436.7h0M428.5 437.7h0M442.8 440.9h0M457.1 446.3h0M471.3 447.9h0M485.6 463.9h0M499.9 472.0h0M514.2 495.9h0M528.5 498.0h0M542.8 495.9h0M557.1 512.6h0M571.4 554.5h0M585.7 551.0h0M600.0 643.9h0M399.9 391.9h0M414.2 404.2h0M428.5 426.7h0M442.8 423.9h0M457.1 425.7h0M471.3 438.4h0M485.6 438.9h0M499.9 451.6h0M514.2 452.9h0M528.5 503.8h0M399.9 394.1h0M414.2 407.9h0M428.5 414.2h0M442.8 420.6h0M457.1 434.4h0M471.3 434.0h0M485.6 448.0h0M499.9 453.3h0M514.2 458.9h0M528.5 471.1h0M542.8 470.9h0M557.1 482.4h0M571.4 493.0h0M585.7 505.5h0M600.0 551.4h0M614.2 595.7h0M628.5 635.8h0M399.9 389.4h0M414.2 409.7h0M428.5 418.4h0M442.8 425.4h0M457.1 433.7h0M471.3 435.4h0M485.6 444.4h0M499.9 450.2h0M514.2 451.3h0M528.5 464.5h0M542.8 464.5h0M557.1 525.5h0M399.9 394.7h0M414.2 407.7h0M428.5 420.3h0M442.8 427.4h0M457.1 440.1h0M471.3 443.3h0M485.6 448.0h0M499.9 455.4h0M514.2 470.7h0M528.5 473.8h0M542.8 493.3h0M557.1 500.2h0M571.4 505.2h0M585.7 503.2h0M600.0 513.5h0M614.2 533.8h0M628.5 572.3h0M642.8 667.5h0M399.9 394.3h0M414.2 408.8h0M428.5 410.8h0M442.8 419.7h0M457.1 457.1h0M471.3 453.1h0M485.6 455.0h0M499.9 451.0h0M514.2 462.9h0M528.5 507.9h0M399.9 399.6h0M414.2 414.1h0M428.5 418.7h0M442.8 428.5h0M457.1 438.9h0M471.3 448.2h0M485.6 446.7h0M499.9 464.9h0M514.2 467.3h0M528.5 475.5h0M542.8 475.7h0M557.1 489.1h0M399.9 389.1h0M414.2 405.6h0M428.5 424.2h0M442.8 428.2h0M457.1 432.5h0M471.3 439.3h0M485.6 444.4h0M499.9 450.7h0M514.2 453.2h0M528.5 461.4h0M542.8 515.5h0M557.1 519.9h0M571.4 523.2h0M585.7 526.1h0M600.0 529.7h0M614.2 534.1h0M628.5 560.9h0M642.8 684.3h0M399.9 397.1h0M414.2 412.6h0M428.5 424.5h0M442.8 423.9h0M457.1 437.1h0M471.3 446.2h0M485.6 449.0h0M499.9 460.3h0M514.2 477.3h0M528.5 473.3h0M542.8 486.4h0M557.1 529.8h0M399.9 412.2h0M414.2 407.0h0M428.5 412.4h0M442.8 415.7h0M457.1 431.8h0M471.3 438.9h0M485.6 443.2h0M499.9 448.0h0M514.2 458.2h0M528.5 461.2h0M542.8 472.0h0M557.1 475.2h0M571.4 505.2h0M585.7 560.0h0M600.0 620.4h0M614.2 654.4h0M399.9 408.2h0M414.2 418.8h0M428.5 424.3h0M442.8 432.4h0M457.1 438.1h0M471.3 451.2h0M485.6 463.5h0M499.9 491.3h0M514.2 490.1h0M528.5 490.8h0M542.8 501.5h0M557.1 506.8h0M571.4 520.3h0M585.7 529.2h0M600.0 586.9h0M399.9 401.5h0M414.2 409.5h0M428.5 417.8h0M442.8 448.6h0M457.1 447.8h0M471.3 443.4h0M485.6 452.0h0M499.9 463.7h0M514.2 470.7h0M528.5 478.3h0M542.8 475.8h0M557.1 483.8h0M571.4 494.5h0M585.7 538.1h0M399.9 393.1h0M414.2 409.8h0M428.5 418.4h0M442.8 423.5h0M457.1 434.9h0M471.3 440.8h0M485.6 493.1h0M499.9 536.1h0M514.2 555.9h0M528.5 612.2h0M399.9 397.8h0M414.2 411.7h0M428.5 418.8h0M442.8 421.7h0M457.1 434.6h0M471.3 442.0h0M485.6 444.0h0M499.9 450.2h0M514.2 461.0h0M528.5 473.5h0M542.8 471.2h0M557.1 498.9h0M571.4 543.3h0M585.7 666.4h0M399.9 404.8h0M414.2 414.8h0M428.5 424.6h0M442.8 435.5h0M457.1 441.0h0M471.3 450.8h0M485.6 459.0h0M499.9 467.5h0M514.2 476.2h0M528.5 479.5h0M542.8 493.2h0M557.1 516.3h0M571.4 558.6h0M585.7 576.5h0M399.9 391.0h0M414.2 407.9h0M428.5 410.7h0M442.8 419.2h0M457.1 430.5h0M471.3 432.6h0M485.6 441.9h0M499.9 447.2h0M514.2 458.7h0M528.5 465.6h0M542.8 476.8h0M557.1 487.0h0M571.4 488.5h0M585.7 512.7h0M600.0 562.5h0M399.9 412.2h0M414.2 411.4h0M428.5 418.1h0M442.8 416.3h0M457.1 435.5h0M471.3 435.6h0M485.6 448.9h0M499.9 455.6h0M514.2 478.0h0M528.5 506.0h0M542.8 509.3h0M557.1 505.5h0M571.4 506.5h0M585.7 504.1h0M600.0 512.4h0M614.2 518.9h0M628.5 539.5h0M642.8 684.6h0M399.9 397.3h0M414.2 413.3h0M428.5 421.5h0M442.8 435.0h0M457.1 434.3h0M471.3 444.1h0M485.6 448.8h0M499.9 484.7h0M514.2 543.8h0M528.5 562.3h0M399.9 392.1h0M414.2 402.1h0M428.5 416.5h0M442.8 418.5h0M457.1 423.6h0M471.3 436.9h0M485.6 441.4h0M499.9 446.5h0M514.2 451.1h0M528.5 464.7h0M542.8 469.0h0M557.1 518.3h0M571.4 620.4h0M399.9 393.4h0M414.2 404.6h0M428.5 415.4h0M442.8 419.0h0M457.1 429.1h0M471.3 438.2h0M485.6 438.1h0M499.9 448.6h0M514.2 466.5h0M528.5 466.2h0M542.8 481.6h0M557.1 480.5h0M571.4 530.4h0M585.7 584.3h0M600.0 612.1h0M614.2 650.1h0M399.9 408.0h0M414.2 418.1h0M428.5 428.8h0M442.8 435.8h0M457.1 447.3h0M471.3 453.2h0M485.6 468.3h0M499.9 469.5h0M514.2 478.6h0M528.5 511.8h0M399.9 399.3h0M414.2 417.6h0M428.5 426.7h0M442.8 428.8h0M457.1 436.4h0M471.3 442.0h0M485.6 458.7h0M499.9 455.9h0M514.2 476.6h0M528.5 518.8h0M399.9 388.3h0M414.2 426.8h0M428.5 431.3h0M442.8 430.1h0M457.1 428.8h0M471.3 430.8h0M485.6 469.4h0M499.9 470.1h0M514.2 468.5h0M528.5 487.6h0M542.8 679.2h0M399.9 402.2h0M414.2 415.8h0M428.5 421.8h0M442.8 429.7h0M457.1 442.8h0M471.3 463.0h0M485.6 458.4h0M499.9 459.6h0M514.2 473.6h0M528.5 481.8h0M542.8 493.9h0M557.1 517.7h0M571.4 547.9h0M585.7 658.8h0M399.9 404.5h0M414.2 415.5h0M428.5 429.7h0M442.8 428.8h0M457.1 444.9h0M471.3 447.3h0M485.6 456.9h0M499.9 462.8h0M514.2 479.0h0M528.5 486.9h0M542.8 483.5h0M557.1 509.4h0M571.4 517.3h0M585.7 578.7h0M399.9 391.9h0M414.2 407.7h0M428.5 416.1h0M442.8 420.2h0M457.1 432.0h0M471.3 445.1h0M485.6 446.9h0M499.9 459.8h0M514.2 510.3h0M528.5 506.3h0M542.8 504.6h0M557.1 508.6h0M571.4 509.7h0M585.7 513.9h0M600.0 562.6h0M614.2 617.7h0M628.5 639.4h0M399.9 391.9h0M414.2 401.9h0M428.5 411.7h0M442.8 422.6h0M457.1 429.8h0M471.3 437.5h0M485.6 443.8h0M499.9 449.2h0M514.2 463.6h0M528.5 502.1h0M542.8 661.0h0M399.9 394.7h0M414.2 406.0h0M428.5 420.8h0M442.8 420.5h0M457.1 427.5h0M471.3 439.1h0M485.6 440.3h0M499.9 455.8h0M514.2 467.0h0M528.5 471.1h0M542.8 471.2h0M557.1 481.9h0M571.4 500.9h0M585.7 559.7h0M600.0 613.8h0M399.9 393.3h0M414.2 405.5h0M428.5 415.1h0M442.8 426.7h0M457.1 429.5h0M471.3 433.7h0M485.6 488.9h0M499.9 489.6h0M514.2 487.6h0M528.5 490.8h0M542.8 495.6h0M557.1 492.1h0M571.4 496.7h0M585.7 538.4h0M600.0 598.8h0M614.2 624.8h0M628.5 681.4h0M399.9 390.8h0M414.2 407.5h0M428.5 413.1h0M442.8 424.5h0M457.1 430.9h0M471.3 450.4h0M485.6 445.9h0M499.9 455.7h0M514.2 483.8h0M528.5 507.1h0M542.8 534.5h0M557.1 654.2h0M399.9 387.0h0M414.2 409.4h0M428.5 417.9h0M442.8 421.7h0M457.1 431.1h0M471.3 430.2h0M485.6 440.2h0M499.9 451.6h0M514.2 465.8h0M528.5 466.8h0M542.8 462.5h0M557.1 473.5h0M571.4 477.2h0M585.7 491.0h0M600.0 542.4h0M614.2 600.2h0M628.5 650.2h0M399.9 392.6h0M414.2 409.9h0M428.5 418.5h0M442.8 420.8h0M457.1 453.7h0M471.3 452.1h0M485.6 448.7h0M499.9 455.1h0M514.2 463.8h0M528.5 466.1h0M542.8 468.7h0M557.1 482.8h0M571.4 498.1h0M585.7 500.2h0M600.0 533.6h0M614.2 536.4h0M628.5 575.3h0M399.9 385.3h0M414.2 402.0h0M428.5 417.2h0M442.8 421.9h0M457.1 420.8h0M471.3 426.6h0M485.6 456.0h0M499.9 455.2h0M514.2 451.8h0M528.5 465.2h0M542.8 599.4h0M399.9 400.2h0M414.2 416.0h0M428.5 424.7h0M442.8 438.0h0M457.1 447.1h0M471.3 454.1h0M485.6 458.9h0M499.9 462.1h0M514.2 510.8h0M528.5 509.5h0M542.8 510.0h0M557.1 510.8h0M571.4 565.7h0M585.7 596.4h0M600.0 614.4h0M399.9 392.8h0M414.2 405.5h0M428.5 410.6h0M442.8 416.8h0M457.1 427.6h0M471.3 435.4h0M485.6 479.4h0M499.9 483.7h0M514.2 481.6h0M528.5 480.4h0M542.8 477.1h0M557.1 485.4h0M571.4 524.8h0M585.7 577.6h0M399.9 394.5h0M414.2 410.1h0M428.5 417.4h0M442.8 425.4h0M457.1 432.2h0M471.3 436.4h0M485.6 438.7h0M499.9 447.5h0M514.2 453.2h0M528.5 469.2h0M542.8 511.6h0M557.1 639.5h0M399.9 412.2h0M414.2 412.8h0M428.5 415.9h0M442.8 425.9h0M457.1 434.0h0M471.3 441.4h0M485.6 442.8h0M499.9 449.3h0M514.2 463.4h0M528.5 467.9h0M542.8 474.1h0M557.1 481.5h0M571.4 508.9h0M585.7 538.7h0M399.9 389.4h0M414.2 418.9h0M428.5 417.4h0M442.8 417.2h0M457.1 422.8h0M471.3 434.5h0M485.6 432.5h0M499.9 450.6h0M514.2 471.4h0M528.5 494.8h0M542.8 515.8h0M557.1 669.5h0M399.9 392.8h0M414.2 404.0h0M428.5 416.0h0M442.8 426.2h0M457.1 426.1h0M471.3 436.6h0M485.6 439.0h0M499.9 446.1h0M514.2 457.6h0M528.5 467.9h0M542.8 468.4h0M557.1 471.8h0M571.4 486.2h0M585.7 534.0h0M600.0 581.5h0M614.2 697.2h0M399.9 386.1h0M414.2 403.1h0M428.5 417.7h0M442.8 417.0h0M457.1 429.2h0M471.3 435.1h0M485.6 434.5h0M499.9 451.7h0M514.2 460.6h0M528.5 466.9h0M542.8 466.9h0M557.1 512.3h0M571.4 533.0h0M585.7 630.5h0M399.9 400.7h0M414.2 438.9h0M428.5 444.1h0M442.8 449.2h0M457.1 447.3h0M471.3 447.5h0M485.6 457.2h0M499.9 464.0h0M514.2 476.2h0M528.5 529.7h0M399.9 400.8h0M414.2 409.4h0M428.5 416.8h0M442.8 464.7h0M457.1 465.5h0M471.3 468.7h0M485.6 471.8h0M499.9 475.0h0M514.2 471.6h0M528.5 474.0h0M542.8 540.2h0M557.1 544.7h0M571.4 567.9h0M585.7 625.9h0M600.0 644.2h0M399.9 395.5h0M414.2 409.1h0M428.5 417.1h0M442.8 456.1h0M457.1 452.4h0M471.3 452.2h0M485.6 472.9h0M499.9 470.4h0M514.2 471.4h0M528.5 502.0h0M542.8 643.1h0M399.9 397.3h0M414.2 414.1h0M428.5 422.2h0M442.8 426.7h0M457.1 439.8h0M471.3 437.7h0M485.6 447.0h0M499.9 454.4h0M514.2 466.3h0M528.5 500.8h0M542.8 526.5h0M399.9 403.3h0M414.2 401.1h0M428.5 410.2h0M442.8 416.3h0M457.1 429.9h0M471.3 428.8h0M485.6 445.2h0M499.9 443.3h0M514.2 449.5h0M528.5 464.1h0M542.8 525.4h0M399.9 400.8h0M414.2 412.3h0M428.5 420.5h0M442.8 423.9h0M457.1 437.1h0M471.3 441.6h0M485.6 453.5h0M499.9 455.9h0M514.2 473.6h0M528.5 477.4h0M542.8 524.7h0M557.1 584.6h0M571.4 622.6h0M399.9 389.3h0M414.2 409.0h0M428.5 413.2h0M442.8 415.6h0M457.1 430.3h0M471.3 440.0h0M485.6 472.8h0M499.9 506.9h0M399.9 393.2h0M414.2 409.4h0M428.5 418.7h0M442.8 425.5h0M457.1 435.2h0M471.3 436.8h0M485.6 444.1h0M499.9 456.1h0M514.2 459.9h0M528.5 470.8h0M542.8 483.0h0M557.1 520.0h0M571.4 565.3h0M585.7 607.2h0M399.9 390.2h0M414.2 410.0h0M428.5 420.5h0M442.8 420.9h0M457.1 433.6h0M471.3 443.5h0M485.6 452.1h0M499.9 454.7h0M514.2 457.4h0M528.5 509.6h0M542.8 547.5h0M557.1 576.9h0M571.4 595.1h0M399.9 404.9h0M414.2 410.8h0M428.5 420.3h0M442.8 428.1h0M457.1 443.4h0M471.3 444.0h0M485.6 454.3h0M499.9 456.1h0M514.2 467.7h0M528.5 485.8h0M542.8 480.6h0M557.1 498.1h0M571.4 543.8h0M399.9 394.9h0M414.2 410.0h0M428.5 418.3h0M442.8 423.5h0M457.1 449.8h0M471.3 452.7h0M485.6 457.3h0M499.9 455.5h0M514.2 459.5h0M528.5 467.9h0M542.8 476.1h0M557.1 478.0h0M571.4 497.2h0M585.7 538.1h0M600.0 567.6h0M399.9 387.7h0M414.2 399.5h0M428.5 408.5h0M442.8 418.6h0M457.1 445.1h0M471.3 441.8h0M485.6 441.6h0M499.9 447.9h0M514.2 451.1h0M528.5 477.4h0M542.8 630.0h0M399.9 405.9h0M414.2 424.5h0M428.5 435.4h0M442.8 444.6h0M457.1 453.4h0M471.3 462.2h0M485.6 474.5h0M499.9 481.5h0M514.2 493.8h0M528.5 506.1h0M542.8 550.1h0M557.1 611.7h0M399.9 409.4h0M414.2 431.2h0M428.5 443.2h0M442.8 456.4h0M457.1 462.2h0M471.3 479.7h0M485.6 488.5h0M499.9 495.6h0M514.2 532.5h0M528.5 594.1h0M399.9 411.1h0M414.2 441.9h0M428.5 449.7h0M442.8 463.9h0M457.1 467.3h0M471.3 497.3h0M485.6 522.0h0M499.9 567.7h0M399.9 404.1h0M414.2 419.9h0M428.5 456.4h0M442.8 458.6h0M457.1 463.9h0M471.3 470.9h0M485.6 486.8h0M499.9 490.3h0M514.2 514.9h0M528.5 576.5h0" stroke="#bebebe" stroke-width="4.6" stroke-linecap="round"/></g>
<path d="M399.9 420.8L414.2 424.0L428.5 425.4L442.8 426.2L457.1 428.9L471.3 430.4L485.6 431.3L499.9 434.1L514.2 435.7L528.5 439.1L542.8 439.9L557.1 440.1L571.4 441.9L585.7 443.4L600.0 444.3L614.2 446.9L628.5 451.3L642.8 454.2L657.1 458.3L671.4 459.9" fill="none" stroke="#f00" stroke-width="1"/>
<path d="M399.9 420.8h0M414.2 424.0h0M428.5 425.4h0M442.8 426.2h0M457.1 428.9h0M471.3 430.4h0M485.6 431.3h0M499.9 434.1h0M514.2 435.7h0M528.5 439.1h0M542.8 439.9h0M557.1 440.1h0M571.4 441.9h0M585.7 443.4h0M600.0 444.3h0M614.2 446.9h0M628.5 451.3h0M642.8 454.2h0M657.1 458.3h0M671.4 459.9h0" stroke="#f00" stroke-width="5.4" stroke-linecap="round"/>
<rect x="389.2" y="372.6" width="293.3" height="284.9" fill="none" stroke="#555" stroke-width="1"/>
<line x1="389.20" y1="383.00" x2="385.20" y2="383.00" stroke="#555" stroke-width="1"/>
<text x="380.30" y="383.00" font-size="12" text-anchor="middle" transform="rotate(-90 380.30 383.00)">0</text>
<line x1="389.20" y1="470.95" x2="385.20" y2="470.95" stroke="#555" stroke-width="1"/>
<text x="380.30" y="470.95" font-size="12" text-anchor="middle" transform="rotate(-90 380.30 470.95)">−5</text>
<line x1="389.20" y1="558.90" x2="385.20" y2="558.90" stroke="#555" stroke-width="1"/>
<text x="380.30" y="558.90" font-size="12" text-anchor="middle" transform="rotate(-90 380.30 558.90)">−10</text>
<line x1="389.20" y1="646.85" x2="385.20" y2="646.85" stroke="#555" stroke-width="1"/>
<text x="380.30" y="646.85" font-size="12" text-anchor="middle" transform="rotate(-90 380.30 646.85)">−15</text>
<line x1="457.06" y1="657.50" x2="457.06" y2="660.80" stroke="#555" stroke-width="1"/>
<text x="457.06" y="670.80" font-size="12" text-anchor="middle">5</text>
<line x1="528.51" y1="657.50" x2="528.51" y2="660.80" stroke="#555" stroke-width="1"/>
<text x="528.51" y="670.80" font-size="12" text-anchor="middle">10</text>
<line x1="599.96" y1="657.50" x2="599.96" y2="660.80" stroke="#555" stroke-width="1"/>
<text x="599.96" y="670.80" font-size="12" text-anchor="middle">15</text>
<line x1="671.41" y1="657.50" x2="671.41" y2="660.80" stroke="#555" stroke-width="1"/>
<text x="671.41" y="670.80" font-size="12" text-anchor="middle">20</text>
<text x="536.00" y="685.40" font-size="15.4" text-anchor="middle">Mixture component</text>
<text x="361.20" y="514.60" font-size="15.4" text-anchor="middle" transform="rotate(-90 361.20 514.60)">log π<tspan font-size="10.47" dy="3.08">s, k</tspan></text>
<text x="408.60" y="415.00" font-size="19" text-anchor="start" font-weight="bold">d</text>
<rect x="528.3" y="383.1" width="146.9" height="28.9" fill="#fff" stroke="#333" stroke-width="0.9"/>
<line x1="531.6" y1="397.6" x2="554.6" y2="397.6" stroke="#f00" stroke-width="1"/>
<circle cx="543.1" cy="397.6" r="2.8" fill="#f00"/>
<text x="565.10" y="401.20" font-size="12" text-anchor="start">log π<tspan font-size="8.16" dy="2.50">k</tspan><tspan dy="-2.50"> pooled GMM</tspan></text>
</svg>
</body></html>
